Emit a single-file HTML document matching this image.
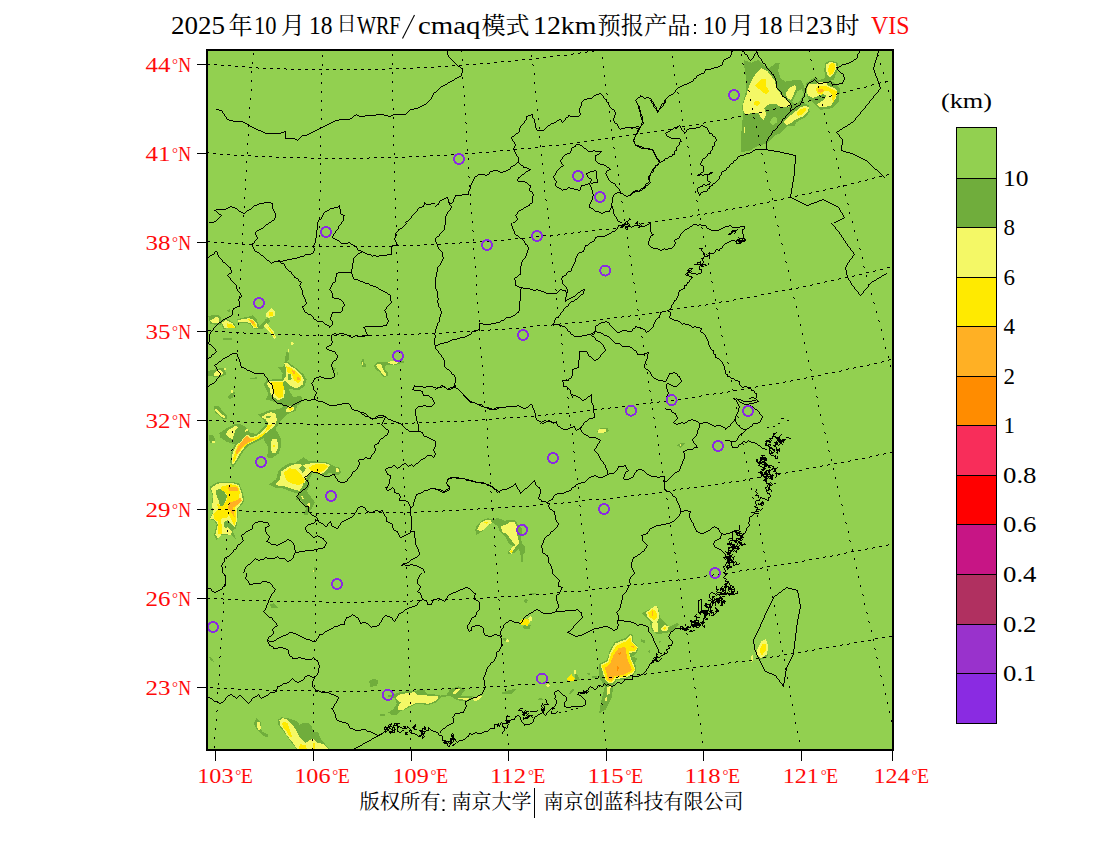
<!DOCTYPE html>
<html><head><meta charset="utf-8"><title>VIS</title>
<style>
html,body{margin:0;padding:0;background:#fff;}
body{width:1100px;height:850px;overflow:hidden;position:relative;font-family:"Liberation Serif",serif;}
svg{position:absolute;left:0;top:0;}
text{font-family:"Liberation Serif",serif;}
text.cjk{font-family:"Liberation Serif","Noto Serif CJK SC",serif;}
</style></head><body>
<svg width="1100" height="850" viewBox="0 0 1100 850">

<rect x="207" y="50" width="686" height="700" fill="#92d050"/>
<g id="map" clip-path="url(#mc)">
<defs><clipPath id="mc"><rect x="208" y="51" width="684" height="698"/></clipPath></defs>
<g shape-rendering="crispEdges"><polygon points="744.2,60.1 751.4,62.7 758.7,59.7 763.9,65.3 769.5,68.1 775.3,63.2 779.8,62.9 778.1,70.7 780.2,77.8 785.0,81.7 797.3,79.5 801.2,80.0 804.4,87.5 805.1,92.7 802.5,101.8 808.9,105.6 809.6,112.1 805.1,117.3 796.0,122.5 794.7,125.7 786.9,126.4 781.1,132.8 775.3,135.4 767.5,143.2 757.8,145.8 749.4,150.9 741.0,152.2 741.6,127.6 742.9,117.3 742.3,105.6 745.5,92.7 746.2,79.8 744.5,68.1" fill="#70ad3c"/>
<polygon points="805.7,83.9 814.1,77.4 819.3,80.0 827.1,77.4 833.5,82.4 840.0,88.8 838.7,101.8 832.2,108.2 820.6,109.8 814.1,103.3 807.6,98.1" fill="#70ad3c"/>
<polygon points="825.1,62.9 829.7,61.0 837.4,61.9 838.5,68.1 835.1,75.9 833.5,80.4 825.8,79.5 824.2,70.7" fill="#70ad3c"/>
<polygon points="797.3,91.4 801.8,88.8 803.8,94.0 799.9,101.1 794.7,104.4 792.1,101.8" fill="#92d050"/>
<polygon points="770.8,119.9 774.0,116.6 776.8,117.9 776.6,122.5 772.7,125.1 770.1,123.1" fill="#92d050"/>
<polygon points="756.5,72.6 761.7,68.1 767.5,71.4 774.6,80.4 776.6,88.8 781.8,95.3 786.9,99.8 790.8,104.4 788.9,106.9 781.8,107.6 776.6,104.4 768.8,104.4 764.3,108.2 766.2,114.7 763.6,119.9 760.4,117.3 759.1,113.4 752.0,112.8 745.5,115.4 742.9,109.5 743.6,101.8 746.8,94.0 749.4,84.9 753.3,77.8" fill="#f4f866"/>
<polygon points="755.2,85.6 761.1,79.1 765.6,79.1 766.2,86.2 769.5,91.4 766.2,94.6 761.7,91.4" fill="#ffea00"/>
<polygon points="753.9,101.8 758.5,100.7 760.4,103.7 757.8,105.9 754.6,105.0" fill="#ffea00"/>
<polygon points="785.6,92.7 790.8,86.9 795.4,84.9 796.0,88.8 793.4,95.3 790.8,99.8 786.9,97.9" fill="#f4f866"/>
<polygon points="783.7,121.8 788.2,117.3 794.7,112.1 799.9,107.6 805.1,105.6 808.9,107.6 807.6,112.1 803.8,116.0 796.0,119.2 792.1,122.5 786.9,125.1" fill="#f4f866"/>
<polygon points="796.6,113.4 800.5,109.5 805.1,107.6 806.4,110.2 802.5,114.1 797.9,116.0" fill="#ffea00"/>
<polygon points="807.0,87.5 808.9,84.3 815.4,84.3 820.6,81.7 825.8,82.4 828.4,86.2 833.5,87.5 837.4,91.4 836.1,97.9 833.5,101.8 830.9,105.6 825.8,106.9 819.3,106.9 816.7,104.4 820.6,101.8 824.5,99.2 826.4,95.3 823.2,94.0 819.3,95.9 812.8,97.9 807.6,95.3" fill="#f4f866"/>
<polygon points="815.4,88.8 819.3,86.2 825.8,86.2 832.2,88.8 836.8,91.4 835.5,97.2 833.5,101.8 831.6,99.2 832.2,94.6 828.4,91.4 824.5,90.8 821.9,94.6 818.0,94.0" fill="#ffea00"/>
<polygon points="818.0,89.5 823.2,88.8 823.8,90.8 820.6,92.7 818.0,92.1" fill="#ffb024"/>
<polygon points="826.4,64.2 829.7,62.3 835.5,62.7 836.8,66.8 834.2,73.3 830.3,77.2 827.1,74.6 825.8,69.4" fill="#f4f866"/>
<polygon points="829.0,65.5 831.6,62.9 834.8,63.6 835.5,67.5 832.9,73.3 829.7,75.2 828.1,70.7" fill="#ffea00"/>
<polygon points="743.8,127.0 744.9,127.0 744.9,132.8 743.8,132.8" fill="#f4f866"/>
<polygon points="208.2,315.9 217.9,314.6 221.2,317.8 220.5,324.9 210.2,324.3" fill="#70ad3c"/>
<polygon points="210.2,320.4 216.0,317.2 219.2,317.8 218.6,323.6 212.8,323.0" fill="#f4f866"/>
<polygon points="220.5,320.4 226.3,318.7 234.1,323.0 236.7,328.2 223.1,328.6" fill="#70ad3c"/>
<polygon points="221.8,323.0 225.7,320.0 232.8,323.6 235.4,327.5 224.4,327.5" fill="#f4f866"/>
<polygon points="227.0,323.4 231.5,323.9 235.0,327.5 227.6,327.5" fill="#ffea00"/>
<polygon points="237.3,319.1 249.0,316.5 253.1,315.2 256.8,319.8 259.3,326.2 265.8,319.1 268.4,317.4 270.3,321.1 262.6,329.1 257.4,329.5 252.9,328.2 249.6,323.9 243.8,322.6 238.0,323.0" fill="#70ad3c"/>
<polygon points="238.0,320.0 249.0,318.2 253.5,319.5 256.8,323.6 257.8,328.2 253.5,327.5 250.3,323.0 243.8,321.7 238.4,322.3" fill="#f4f866"/>
<polygon points="247.7,319.1 252.9,320.0 256.1,324.9 256.8,327.8 253.9,326.9 250.9,322.3" fill="#ffea00"/>
<polygon points="249.6,319.8 253.5,321.1 254.8,324.9 252.2,323.6" fill="#ffb024"/>
<polygon points="265.8,313.3 271.6,308.1 275.5,312.0 274.9,315.9 269.0,317.8 266.5,316.5" fill="#f4f866"/>
<polygon points="268.4,312.6 272.3,311.3 273.6,315.2 269.7,316.5" fill="#ffea00"/>
<polygon points="263.2,326.2 266.5,323.0 269.7,326.9 273.6,331.4 276.2,337.9 274.2,338.9 270.3,332.7 266.5,329.5" fill="#f4f866"/>
<polygon points="267.1,326.2 270.3,328.8 274.2,334.6 274.9,337.9 271.0,332.0" fill="#ffea00"/>
<polygon points="290.4,343.7 291.9,341.8 294.0,343.3 291.9,345.9" fill="#f4f866"/>
<polygon points="287.8,348.9 289.4,348.9 289.1,352.1 287.8,352.1" fill="#f4f866"/>
<polygon points="286.5,352.1 289.1,352.8 288.5,360.5 284.6,362.5 285.2,357.3" fill="#70ad3c"/>
<polygon points="278.1,367.6 283.9,366.3 284.2,361.8 287.8,361.8 295.6,367.6 303.3,374.1 306.6,379.3 304.6,386.4 298.8,390.3 289.1,389.0 285.9,393.5 285.2,400.0 265.8,400.0 268.4,393.5 263.9,384.4 266.5,379.9 274.9,379.3 282.0,379.3 282.6,372.8" fill="#70ad3c"/>
<polygon points="284.2,363.1 286.5,362.5 291.0,366.3 295.6,368.9 300.7,374.1 304.0,379.3 302.7,384.4 298.2,387.7 294.3,387.7 289.1,385.1 285.2,380.6 282.6,383.2 283.9,388.3 284.6,393.5 282.6,400.0 275.5,400.0 272.3,393.5 269.7,388.3 267.1,384.4 268.4,381.2 274.9,380.6 282.6,380.6 285.9,376.7 286.5,370.2" fill="#f4f866"/>
<polygon points="285.9,366.3 290.4,367.6 295.6,370.9 300.7,376.0 301.4,380.6 298.2,383.2 294.3,380.6 291.7,374.1 287.8,372.8" fill="#ffea00"/>
<polygon points="291.9,370.2 294.3,370.9 295.6,374.1 293.0,373.5" fill="#ffb024"/>
<polygon points="297.1,376.7 300.1,378.0 299.4,380.6 297.1,379.9" fill="#ffb024"/>
<polygon points="271.0,382.5 282.6,381.9 283.9,388.3 283.3,394.8 277.5,397.4 273.6,392.2" fill="#ffea00"/>
<polygon points="287.8,374.1 291.0,373.8 291.7,379.3 288.5,379.9" fill="#70ad3c"/>
<polygon points="208.2,370.9 224.4,367.4 226.3,374.7 221.8,376.7 208.2,376.4" fill="#70ad3c"/>
<polygon points="213.4,374.7 216.6,370.9 219.9,369.6 223.1,372.8 221.8,375.4 214.1,376.0" fill="#f4f866"/>
<polygon points="223.8,368.3 226.3,367.6 225.7,369.6 224.1,370.0" fill="#f4f866"/>
<polygon points="222.5,338.5 232.2,337.9 232.2,340.5 223.1,340.2" fill="#70ad3c"/>
<polygon points="226.3,310.7 229.6,309.4 230.2,312.6" fill="#70ad3c"/>
<polygon points="250.3,378.0 256.8,377.3 256.8,379.3 250.3,379.5" fill="#70ad3c"/>
<polygon points="332.4,367.6 335.7,368.3 334.4,371.5" fill="#70ad3c"/>
<polygon points="337.0,371.5 338.3,371.5 338.3,375.4 337.0,375.4" fill="#70ad3c"/>
<polygon points="228.3,397.4 232.8,393.5 234.1,395.4 230.2,399.3" fill="#70ad3c"/>
<polygon points="230.9,390.3 232.8,389.6 233.2,392.9 231.3,392.9" fill="#f4f866"/>
<polygon points="267.1,390.0 289.1,390.0 293.0,397.1 301.4,395.8 302.0,401.6 297.5,405.5 295.6,410.7 287.8,413.9 281.3,419.8 275.5,428.8 281.3,439.2 280.7,446.9 278.7,453.4 271.0,458.6 267.1,457.3 268.4,446.9 263.9,440.5 264.5,434.0 271.0,427.5 265.8,421.1 259.3,415.9 261.9,413.3 269.7,410.1 277.5,409.4 283.9,406.8 277.5,402.9 269.7,400.4" fill="#70ad3c"/>
<polygon points="269.7,390.0 285.2,390.0 283.9,397.8 278.7,400.4 272.3,396.5 270.3,392.6" fill="#f4f866"/>
<polygon points="273.6,390.0 283.3,390.0 282.6,396.5 278.7,398.4 274.9,394.5" fill="#ffea00"/>
<polygon points="285.9,409.4 289.1,406.2 293.6,406.8 293.6,410.1 289.1,412.6 286.5,412.0" fill="#f4f866"/>
<polygon points="287.8,408.8 291.0,406.8 293.0,408.1 290.4,410.7" fill="#ffea00"/>
<polygon points="258.0,414.6 265.8,412.0 272.3,410.4 277.5,413.9 278.7,421.1 276.2,427.5 265.8,435.3 261.9,439.2 249.0,445.6 243.8,450.8 237.3,461.2 232.8,467.6 230.2,462.5 231.5,452.1 234.8,444.3 227.0,441.8 220.5,437.9 219.2,433.3 225.7,428.8 236.1,423.6 242.5,424.9 247.7,428.8 249.6,432.7 256.8,434.0 265.8,424.9 263.2,419.8" fill="#70ad3c"/>
<polygon points="261.3,417.2 265.8,413.9 271.0,412.0 275.5,413.9 276.8,419.8 274.9,426.2 269.7,430.1 263.2,435.3 259.3,437.9 254.2,441.1 247.7,444.3 243.8,448.2 239.9,453.4 236.1,460.5 232.8,465.0 231.5,459.9 232.8,452.1 236.1,445.6 241.2,441.1 245.1,435.9 247.7,434.6 250.3,437.2 256.8,435.9 261.9,431.4 267.1,426.2 268.4,423.0 265.2,419.1" fill="#f4f866"/>
<polygon points="267.1,425.6 272.3,424.3 269.7,428.8 261.9,434.0 256.8,437.2 250.3,438.5 247.0,435.3 243.8,439.8 238.6,444.3 235.4,450.8 232.8,459.9 233.7,462.5 237.3,454.7 242.5,448.2 249.0,443.0 259.3,438.5 264.5,434.0" fill="#ffea00"/>
<polygon points="244.5,437.9 247.0,435.9 249.6,438.5 254.2,439.2 249.0,441.8 243.8,445.6 239.9,450.2 236.7,454.7 236.1,450.8 238.6,445.6 241.9,441.8" fill="#ffb024"/>
<polygon points="265.8,416.5 271.0,415.9 270.3,417.8 266.5,418.2" fill="#70ad3c"/>
<polygon points="271.0,441.8 272.9,438.5 276.2,438.5 277.7,443.0 277.5,449.5 275.5,453.4 272.3,453.4 270.7,448.2" fill="#f4f866"/>
<polygon points="272.9,445.0 274.9,445.0 274.9,446.9 272.9,446.9" fill="#ffea00"/>
<polygon points="225.7,434.0 228.9,429.5 235.4,426.0 238.0,426.9 234.8,431.4 232.8,439.2 228.9,437.9" fill="#f4f866"/>
<polygon points="244.5,430.1 247.7,428.6 248.3,430.1 245.4,432.0" fill="#f4f866"/>
<polygon points="214.1,406.2 217.9,405.5 227.0,415.9 227.6,419.1 223.1,419.1 214.7,412.0" fill="#70ad3c"/>
<polygon points="214.7,409.4 216.6,409.4 222.5,414.6 225.7,417.2 224.4,418.2 219.2,415.2 216.0,412.0" fill="#f4f866"/>
<polygon points="208.9,435.3 212.8,434.6 215.4,439.2 214.1,443.0 210.2,443.0 208.6,439.2" fill="#70ad3c"/>
<polygon points="212.1,441.1 214.7,441.1 215.1,443.0 212.1,443.0" fill="#f4f866"/>
<polygon points="228.3,396.5 232.8,391.9 235.4,392.6 232.8,397.8 229.6,398.4" fill="#70ad3c"/>
<polygon points="230.9,390.6 232.8,390.0 232.8,392.6 231.3,392.8" fill="#f4f866"/>
<polygon points="269.0,484.4 276.2,479.3 278.7,470.2 287.8,463.7 295.6,462.5 303.3,457.3 308.5,460.5 317.6,461.8 326.6,462.5 334.4,466.3 339.6,467.6 340.9,472.8 338.3,475.4 329.2,472.8 325.3,475.4 318.9,474.1 312.4,472.8 308.5,480.6 309.8,485.7 304.6,493.5 300.7,500.0 295.6,500.0 298.2,493.5 293.0,492.2 282.6,488.3 274.9,487.7" fill="#70ad3c"/>
<polygon points="275.5,484.4 280.0,479.3 281.3,471.5 289.1,466.3 296.9,463.7 303.3,465.0 308.5,463.7 316.3,462.5 325.3,463.1 329.9,465.0 326.6,470.2 321.4,474.1 315.0,472.8 311.1,470.9 307.2,475.4 305.9,480.6 303.3,485.7 299.4,490.9 294.3,489.6 285.2,486.4 278.7,485.7" fill="#f4f866"/>
<polygon points="283.9,472.8 289.1,468.3 295.6,468.9 300.7,474.1 304.6,479.3 303.3,483.2 298.2,485.1 290.4,483.2 285.9,479.3" fill="#ffea00"/>
<polygon points="308.5,468.3 312.4,465.0 318.9,463.7 325.3,464.4 327.9,466.3 324.0,470.9 318.9,472.8 313.7,471.5 310.4,470.2" fill="#ffea00"/>
<polygon points="299.2,468.3 302.7,465.3 306.2,468.7 302.7,472.8" fill="#70ad3c"/>
<polygon points="335.7,468.3 338.3,467.6 338.9,471.5 336.3,472.2" fill="#f4f866"/>
<polygon points="209.5,486.8 217.3,482.3 230.9,481.6 239.3,483.6 242.5,492.0 244.5,500.4 241.9,504.9 238.0,508.8 237.3,521.8 236.1,528.2 232.8,530.8 236.1,539.2 230.9,534.7 220.5,534.7 216.6,539.9 214.1,534.7 216.6,524.3 214.1,520.5 209.5,519.2 212.8,512.7 211.5,506.2 212.8,495.9" fill="#70ad3c"/>
<polygon points="210.8,488.1 217.9,483.6 230.9,482.7 238.6,484.9 241.2,492.0 243.2,500.4 240.6,504.3 237.3,508.2 236.7,521.8 234.8,526.9 228.9,521.8 227.0,526.9 232.2,532.1 230.9,534.7 221.8,534.0 217.9,538.6 215.4,534.7 217.9,524.3 214.7,519.8 210.4,518.5 213.4,512.7 212.1,506.2 213.4,495.9" fill="#f4f866"/>
<polygon points="220.5,486.8 230.9,484.2 238.0,486.2 239.9,492.0 238.6,497.2 241.9,500.4 239.3,503.6 235.4,507.5 236.1,520.5 234.1,525.6 230.9,519.2 228.9,514.0 227.0,517.9 221.8,517.9 220.5,521.1 222.5,526.9 221.8,533.4 218.6,534.7 217.9,526.9 218.6,521.8 214.1,519.2 213.4,514.0 217.9,510.1 217.3,503.6 221.8,506.2 226.3,501.1 227.6,494.6 221.8,490.7" fill="#ffea00"/>
<polygon points="228.3,487.5 237.3,486.8 238.4,490.7 228.9,491.3" fill="#ffb024"/>
<polygon points="228.9,502.3 235.4,501.1 240.6,497.8 241.9,501.1 237.3,504.9 232.8,507.5 234.1,514.0 234.8,517.9 231.5,512.7 228.3,508.8" fill="#ffb024"/>
<polygon points="216.0,490.7 219.9,488.8 224.4,492.0 227.0,495.9 225.7,501.1 223.1,506.2 219.9,505.6 218.6,499.8 216.6,495.9" fill="#70ad3c"/>
<polygon points="224.4,521.8 228.3,519.8 228.9,523.0 226.3,528.2 224.4,526.9" fill="#70ad3c"/>
<polygon points="303.3,482.9 308.5,484.2 307.2,492.0 315.0,502.3 312.4,507.5 307.2,515.3 303.3,515.3 305.9,508.8 300.7,499.8 299.4,495.9" fill="#70ad3c"/>
<polygon points="301.4,496.5 303.3,495.2 303.6,498.5 301.8,499.1" fill="#f4f866"/>
<polygon points="307.2,503.6 310.4,503.0 310.1,506.9 307.9,507.5" fill="#f4f866"/>
<polygon points="313.0,569.6 314.3,569.6 314.3,572.2 313.0,572.2" fill="#f4f866"/>
<polygon points="314.3,567.0 315.6,567.0 315.6,572.2 314.3,572.2" fill="#70ad3c"/>
<polygon points="254.0,723.6 256.5,717.9 261.0,722.4 261.6,731.3 268.0,734.5 267.4,737.6 262.3,735.1 257.2,730.0" fill="#70ad3c"/>
<polygon points="257.2,722.4 259.7,721.7 261.0,728.7 259.1,730.6 257.4,727.5" fill="#f4f866"/>
<polygon points="277.5,719.8 281.4,717.3 289.0,718.5 296.6,721.1 299.8,724.9 303.0,723.0 308.1,723.0 311.9,726.2 313.2,731.9 318.3,732.5 320.8,738.9 327.2,746.5 329.7,749.1 296.6,749.1 291.5,742.7 286.5,735.1 281.4,728.7 278.2,724.9" fill="#70ad3c"/>
<polygon points="279.5,720.5 282.6,717.9 287.7,719.8 292.8,724.9 296.6,731.3 299.8,737.6 305.5,742.7 313.2,738.3 317.0,742.7 323.4,744.0 327.8,748.5 297.3,749.1 292.8,742.7 287.7,736.4 283.3,729.4 279.5,724.3" fill="#f4f866"/>
<polygon points="282.0,723.0 284.5,721.7 287.7,723.6 290.3,731.3 292.2,737.6 289.6,736.4 286.5,731.3 283.3,727.5" fill="#ffea00"/>
<polygon points="299.8,744.0 305.5,745.3 306.8,748.5 299.2,748.5" fill="#ffea00"/>
<polygon points="312.5,743.4 314.5,743.4 314.5,748.5 312.5,748.5" fill="#ffea00"/>
<polygon points="475.2,530.5 476.6,526.1 481.7,520.6 487.5,518.1 491.9,519.2 498.5,518.1 504.3,520.6 514.5,519.9 518.8,525.4 522.5,529.0 521.7,534.1 521.0,539.9 522.5,544.3 525.0,546.5 524.6,553.0 522.5,555.2 522.8,561.7 521.4,561.7 520.6,555.2 518.8,548.6 515.2,552.3 508.6,554.8 508.3,551.5 513.0,546.5 508.6,543.5 505.7,537.0 499.9,531.9 497.7,526.1 492.6,522.5 487.5,526.1 482.5,531.2 476.6,534.8" fill="#70ad3c"/>
<polygon points="477.0,529.7 480.6,522.8 486.1,519.9 490.5,520.3 492.3,522.8 488.3,525.0 484.3,529.4 480.3,531.2" fill="#f4f866"/>
<polygon points="484.1,522.3 487.9,522.1 486.5,523.9" fill="#ffea00"/>
<polygon points="501.0,526.5 505.7,524.6 510.1,522.1 514.5,522.1 517.0,526.8 516.3,531.2 517.7,536.3 519.2,543.5 517.4,545.4 513.7,549.4 511.5,553.7 509.0,551.5 512.3,547.2 515.2,545.0 512.3,541.4 508.6,536.3 505.7,533.4 502.1,532.3" fill="#f4f866"/>
<polygon points="509.7,551.5 511.5,549.7 513.4,551.5 511.5,553.4" fill="#ffea00"/>
<polygon points="599.0,664.1 607.1,659.7 609.3,651.6 614.4,642.1 626.2,637.6 629.1,634.0 632.8,634.7 633.5,642.1 638.7,647.9 636.5,653.1 632.1,656.8 637.2,658.2 635.0,662.6 636.5,670.0 633.5,675.1 626.2,679.6 616.6,680.3 613.7,685.4 611.5,697.9 605.6,709.7 599.0,713.4 601.2,700.9 604.9,686.2 599.7,678.8 599.0,671.5" fill="#70ad3c"/>
<polygon points="600.4,664.9 607.8,661.2 610.0,652.4 615.1,643.5 626.9,639.1 629.9,635.0 632.1,635.9 632.4,642.1 637.9,647.6 635.7,651.6 629.1,653.1 631.3,659.7 633.5,664.1 635.7,670.0 632.1,674.4 625.4,678.1 615.9,678.8 612.9,683.2 609.3,683.2 604.9,679.6 602.6,671.5" fill="#f4f866"/>
<polygon points="601.9,665.6 608.5,662.4 611.5,653.1 616.6,645.7 626.9,640.9 630.3,636.9 631.3,642.1 637.2,647.6 635.0,650.6 628.4,651.6 630.3,659.7 635.0,670.0 631.3,672.9 624.7,676.6 615.1,677.6 612.2,681.8 609.3,682.1 605.6,678.8 603.8,671.5" fill="#ffea00"/>
<polygon points="604.9,667.8 610.0,664.1 613.7,654.6 618.8,647.9 625.4,647.2 626.2,652.4 627.6,659.7 632.1,670.0 629.1,672.2 623.2,675.1 614.4,676.2 611.5,680.6 608.5,680.3 606.8,674.4" fill="#ffb024"/>
<polygon points="618.1,653.8 621.0,651.6 620.3,655.3" fill="#ff8c00"/>
<polygon points="630.6,646.5 633.5,645.7 634.3,648.2" fill="#ffb024"/>
<polygon points="616.6,665.6 619.6,667.1 617.4,670.7" fill="#ff8c00"/>
<polygon points="607.1,686.9 610.7,686.2 610.0,693.5 607.1,695.0" fill="#f4f866"/>
<polygon points="605.3,697.9 606.8,697.2 606.5,700.9 605.3,700.9" fill="#f4f866"/>
<polygon points="641.6,613.4 646.0,611.2 651.9,608.2 657.1,605.3 658.5,609.7 660.0,617.1 664.4,621.5 669.6,626.6 676.9,622.9 679.1,624.4 671.8,631.8 665.1,633.2 657.1,634.0 651.9,630.3 649.7,621.5 645.3,617.1" fill="#70ad3c"/>
<polygon points="646.0,612.6 649.7,609.7 656.3,605.3 658.2,609.7 659.3,617.1 657.1,621.5 658.5,627.4 657.8,631.8 654.1,631.8 651.9,625.9 652.6,622.2 647.5,617.1" fill="#f4f866"/>
<polygon points="648.2,612.6 652.6,609.4 656.3,611.2 657.1,617.1 654.1,620.0 649.7,617.1" fill="#ffea00"/>
<polygon points="651.9,611.2 652.9,611.2 652.9,616.3 651.9,616.3" fill="#ffb024"/>
<polygon points="660.7,628.1 665.1,625.1 668.8,626.6 667.4,630.3 662.2,631.5" fill="#f4f866"/>
<polygon points="662.6,628.5 665.1,626.6 666.6,628.1 664.4,630.3" fill="#ffea00"/>
<polygon points="640.9,639.1 645.3,640.6 645.6,643.5 641.6,642.1" fill="#70ad3c"/>
<polygon points="646.8,650.9 650.4,650.1 650.4,653.8" fill="#70ad3c"/>
<polygon points="632.1,657.5 636.5,657.5 634.3,660.4" fill="#70ad3c"/>
<polygon points="587.2,673.7 589.4,672.9 589.4,675.1" fill="#70ad3c"/>
<polygon points="591.6,676.6 596.8,675.9 596.8,677.6 591.6,677.6" fill="#70ad3c"/>
<polygon points="658.5,641.3 660.7,641.3 659.7,642.8" fill="#70ad3c"/>
<polygon points="385.9,696.0 392.5,694.4 402.3,691.6 415.4,691.1 420.8,688.9 424.6,690.5 427.4,693.8 439.4,694.9 442.1,696.5 436.1,702.5 429.5,704.7 415.4,704.2 405.5,709.1 400.1,711.3 396.8,714.5 391.4,714.5 388.1,712.4 393.5,709.1 396.8,703.6 394.6,698.2" fill="#70ad3c"/>
<polygon points="395.7,697.1 400.1,694.4 406.6,693.3 414.3,692.2 417.5,694.9 427.4,695.5 438.3,696.0 437.7,698.7 433.9,702.0 428.5,703.6 415.4,703.1 407.7,706.9 403.4,709.6 398.5,709.6 397.9,706.9 400.6,702.5 396.8,699.8" fill="#f4f866"/>
<polygon points="375.0,679.6 377.2,680.2 378.1,683.5 376.1,685.6 375.0,685.1" fill="#70ad3c"/>
<polygon points="379.9,714.5 384.8,714.0 384.8,715.6 379.9,715.9" fill="#70ad3c"/>
<polygon points="445.9,696.0 450.3,688.9 459.0,686.2 462.3,688.4 465.5,690.0 462.3,692.7 461.2,696.0 468.8,696.5 473.2,696.0 471.0,698.7 465.5,700.9 456.8,700.4 451.4,696.5" fill="#70ad3c"/>
<polygon points="451.9,693.3 455.7,689.5 461.2,688.9 457.4,692.2 455.2,693.8" fill="#f4f866"/>
<polygon points="457.9,698.0 468.8,697.6 468.3,699.8 459.0,699.3" fill="#f4f866"/>
<polygon points="472.6,699.3 477.5,696.5 483.0,695.8 479.7,699.3 475.4,701.2" fill="#f4f866"/>
<polygon points="440.5,695.5 445.9,694.9 445.9,696.5 440.5,696.9" fill="#70ad3c"/>
<polygon points="522.4,625.6 530.8,624.9 530.1,628.6 523.6,628.6" fill="#70ad3c"/>
<polygon points="519.5,621.7 522.4,618.7 527.5,619.1 530.1,622.4 527.5,625.6 521.7,625.2" fill="#ffea00"/>
<polygon points="528.2,617.8 531.4,615.2 531.7,621.1 529.5,621.7" fill="#f4f866"/>
<polygon points="502.9,637.9 506.8,637.6 505.5,641.1 503.6,640.7" fill="#70ad3c"/>
<polygon points="505.3,640.7 507.5,639.2 509.2,641.1 507.1,642.8" fill="#f4f866"/>
<polygon points="523.9,600.4 526.2,598.0 527.8,601.0 525.6,603.6" fill="#70ad3c"/>
<polygon points="528.2,593.6 536.6,593.2 532.7,595.4" fill="#70ad3c"/>
<polygon points="575.4,673.5 578.0,675.4 579.9,679.9 575.4,679.9" fill="#70ad3c"/>
<polygon points="567.0,678.0 571.5,674.1 574.8,678.7 574.1,680.6 567.6,680.6" fill="#ffea00"/>
<polygon points="573.5,670.9 575.4,668.9 576.1,673.5 574.1,674.1" fill="#f4f866"/>
<polygon points="547.6,682.5 550.2,682.5 550.2,684.2" fill="#70ad3c"/>
<polygon points="545.6,685.1 548.9,683.8 550.2,685.8 547.6,687.3" fill="#f4f866"/>
<polygon points="500.4,692.9 510.7,689.7 516.5,689.0 512.0,693.5 502.9,693.9" fill="#70ad3c"/>
<polygon points="568.9,693.5 572.2,689.0 574.8,689.7 571.5,693.5" fill="#70ad3c"/>
<polygon points="587.1,673.5 590.3,672.8 589.0,676.1" fill="#70ad3c"/>
<polygon points="590.9,677.0 597.4,676.1 597.4,677.7" fill="#70ad3c"/>
<polygon points="537.9,698.7 541.8,698.1 543.1,700.0 538.5,700.0" fill="#70ad3c"/>
<polygon points="758.8,657.6 768.2,654.1 767.1,657.6 760.0,660.0" fill="#70ad3c"/>
<polygon points="756.5,650.6 761.2,641.2 765.9,638.8 768.2,645.9 767.1,654.1 761.2,658.4 757.6,655.3" fill="#f4f866"/>
<polygon points="759.5,650.6 762.4,643.5 765.9,643.5 765.9,650.6 761.9,655.3" fill="#ffea00"/>
<polygon points="750.6,656.5 752.5,655.3 752.9,661.2 751.1,661.6" fill="#f4f866"/>
<polygon points="374.0,365.5 377.3,362.5 387.1,362.2 395.1,360.4 404.5,361.1 403.8,362.5 396.5,364.7 389.6,365.1 385.6,365.1 384.9,369.1 387.8,372.7 387.5,376.4 383.5,376.7 379.1,372.0 375.1,368.4" fill="#70ad3c"/>
<polygon points="376.2,365.5 379.1,363.3 381.3,364.7 383.1,369.8 386.0,374.2 385.6,376.0 383.8,375.6 380.5,371.3 378.0,368.4" fill="#f4f866"/>
<polygon points="387.8,362.2 390.7,361.2 395.1,361.5 398.0,362.2 396.5,363.6 393.6,364.7 390.4,363.6" fill="#f4f866"/>
<polygon points="360.9,362.5 362.0,359.3 363.8,359.3 364.5,363.3 366.7,365.1 365.6,366.5 362.4,366.5" fill="#70ad3c"/>
<polygon points="361.9,362.2 363.1,361.8 363.1,365.1 362.0,365.1" fill="#f4f866"/>
<polygon points="597.1,431.1 600.7,427.5 608.0,428.2 608.7,431.1 605.1,433.3 598.5,433.3" fill="#70ad3c"/>
<polygon points="598.1,429.6 606.3,428.9 606.5,431.4 603.6,432.8 598.5,432.5" fill="#f4f866"/>
<polygon points="677.1,445.6 680.7,442.7 685.1,443.5 680.7,447.8" fill="#70ad3c"/>
<polygon points="680.0,443.5 681.0,443.5 681.0,445.9 680.0,445.9" fill="#f4f866"/>
<polygon points="369.1,680.7 374.3,678.6 378.5,680.7 376.4,685.9 370.2,686.9" fill="#70ad3c"/>
<polygon points="269.8,604.4 274.0,603.3 278.2,607.5 271.9,608.5" fill="#70ad3c"/>
<polygon points="208.1,656.6 211.3,657.7 214.4,661.9 211.3,660.8" fill="#70ad3c"/></g>
<path d="M447.5 51v4M731.5 51v4M732 51.5h1M742 51.5h2M756.5 51v2M859.5 51v2M878.5 51v2M744.5 52v2M757.5 52v3M755 53.5h1M858 53.5h1M877.5 53v4M745 54.5h2M754.5 54v2M857.5 54v4M448.5 55v2M730.5 55v2M747.5 55v2M758.5 55v2M753.5 56v2M449 57.5h1M728 57.5h2M748.5 57v2M759 57.5h1M876.5 57v3M450 58.5h1M726 58.5h2M752 58.5h1M760 58.5h1M856 58.5h1M451 59.5h1M724 59.5h2M749 59.5h1M751 59.5h1M761.5 59v2M854 59.5h2M452 60.5h1M723.5 60v2M750 60.5h1M853 60.5h1M875.5 60v3M453 61.5h1M762.5 61v2M851 61.5h2M454 62.5h1M722.5 62v3M849 62.5h2M455 63.5h1M763 63.5h2M846 63.5h3M874.5 63v4M456 64.5h1M765.5 64v2M842 64.5h4M457 65.5h1M720 65.5h2M841 65.5h1M458 66.5h2M718 66.5h2M766.5 66v2M839 66.5h2M460 67.5h1M714 67.5h4M836 67.5h3M873.5 67v3M461 68.5h1M711 68.5h3M767 68.5h1M837.5 68v2M462.5 69v4M705 69.5h6M768 69.5h1M705 70.5h1M769 70.5h1M838 70.5h1M874.5 70v3M704.5 71v2M770 71.5h1M839 71.5h1M771.5 72v2M840 72.5h1M461.5 73v3M701 73.5h3M841 73.5h2M875.5 73v3M699 74.5h2M772 74.5h2M843.5 74v3M697 75.5h2M773 75.5h1M459 76.5h2M696.5 76v2M774.5 76v2M876.5 76v2M457 77.5h2M844.5 77v3M455 78.5h2M694 78.5h2M775.5 78v3M877.5 78v3M454 79.5h1M693.5 79v2M814 79.5h1M452 80.5h2M813 80.5h1M815 80.5h1M843.5 80v2M450 81.5h2M691 81.5h2M776.5 81v7M811 81.5h2M816 81.5h1M829 81.5h2M878.5 81v3M448 82.5h2M689 82.5h2M809 82.5h2M817 82.5h1M823 82.5h6M831.5 82v2M842.5 82v2M447 83.5h1M687 83.5h2M808 83.5h1M818 83.5h5M839 83.5h3M445 84.5h2M684 84.5h3M807.5 84v2M832 84.5h7M879.5 84v3M443 85.5h2M682 85.5h2M832 85.5h1M441 86.5h2M680 86.5h2M806.5 86v2M440 87.5h1M678 87.5h2M880.5 87v2M439 88.5h1M677 88.5h1M777 88.5h1M805.5 88v5M438 89.5h1M676 89.5h1M778 89.5h1M879 89.5h1M437 90.5h1M675.5 90v2M779 90.5h1M878.5 90v2M436 91.5h1M780 91.5h1M434 92.5h2M674 92.5h1M781.5 92v3M877 92.5h1M433.5 93v2M599 93.5h2M673 93.5h1M804.5 93v4M876 93.5h1M596 94.5h3M601 94.5h1M671 94.5h2M875 94.5h1M432.5 95v2M594 95.5h2M602 95.5h1M640.5 95v2M669 95.5h2M782.5 95v2M874 95.5h1M593 96.5h1M603.5 96v2M641 96.5h2M668 96.5h1M783 96.5h1M873.5 96v2M431.5 97v2M592 97.5h1M638 97.5h2M643 97.5h1M646 97.5h3M667 97.5h1M784 97.5h2M803 97.5h1M587 98.5h5M604 98.5h1M637 98.5h1M644 98.5h2M649 98.5h2M666 98.5h1M786.5 98v2M802.5 98v3M872 98.5h1M430 99.5h1M584 99.5h3M605 99.5h2M636 99.5h1M651.5 99v4M665.5 99v4M871 99.5h1M429 100.5h1M583 100.5h1M606.5 100v2M635 100.5h1M650 100.5h1M664.5 100v4M787 100.5h1M870 100.5h1M428 101.5h1M582 101.5h1M636.5 101v2M652 101.5h1M788 101.5h1M801.5 101v2M869.5 101v2M427 102.5h1M581.5 102v4M607 102.5h1M653.5 102v5M789 102.5h1M426 103.5h1M608.5 103v2M637.5 103v2M652 103.5h1M662 103.5h2M790.5 103v2M800.5 103v2M868 103.5h1M424 104.5h2M654.5 104v2M661.5 104v2M663.5 104v2M867 104.5h1M422 105.5h2M609.5 105v2M638.5 105v4M791.5 105v3M798 105.5h2M866 105.5h1M420 106.5h2M580.5 106v2M639.5 106v6M655 106.5h1M660.5 106v3M662 106.5h1M796 106.5h2M865.5 106v2M418 107.5h2M610 107.5h1M654 107.5h1M656.5 107v4M661 107.5h1M795 107.5h1M414 108.5h4M579.5 108v5M611 108.5h1M655 108.5h1M659.5 108v2M790.5 108v4M794 108.5h1M864 108.5h1M216 109.5h3M410 109.5h4M612 109.5h2M792 109.5h2M863 109.5h1M219 110.5h3M409 110.5h1M614.5 110v2M640.5 110v7M657.5 110v3M658.5 110v2M791 110.5h1M862 110.5h1M222.5 111v2M408 111.5h1M861 111.5h1M407 112.5h1M615.5 112v3M789 112.5h1M860.5 112v2M223 113.5h1M406 113.5h1M580.5 113v2M788 113.5h1M224.5 114v2M356 114.5h1M376 114.5h8M393 114.5h13M531 114.5h2M641.5 114v2M787 114.5h1M859 114.5h1M354 115.5h2M357 115.5h2M365 115.5h11M384 115.5h4M391 115.5h2M528 115.5h3M532.5 115v3M568 115.5h2M579 115.5h1M614.5 115v3M786 115.5h1M858 115.5h1M225 116.5h1M353 116.5h1M359 116.5h6M388 116.5h3M526.5 116v4M527 116.5h1M568 116.5h1M570 116.5h9M642.5 116v7M785.5 116v2M857 116.5h1M226.5 117v2M352 117.5h1M566 117.5h2M641.5 117v3M856 117.5h1M350 118.5h2M533 118.5h1M565.5 118v2M613.5 118v3M783 118.5h2M855.5 118v2M227 119.5h2M339 119.5h11M534.5 119v4M559 119.5h2M782.5 119v2M229 120.5h4M335 120.5h4M525 120.5h1M557 120.5h2M561.5 120v2M564 120.5h1M854 120.5h1M233 121.5h10M333 121.5h2M524.5 121v2M556 121.5h1M563 121.5h1M614.5 121v2M781.5 121v2M853 121.5h1M243 122.5h2M331 122.5h2M554 122.5h2M562 122.5h1M643.5 122v2M851 122.5h2M245 123.5h2M329 123.5h2M523 123.5h1M535.5 123v5M551 123.5h3M615 123.5h2M641.5 123v3M780 123.5h1M850 123.5h1M247 124.5h2M327 124.5h2M522 124.5h1M550 124.5h1M617.5 124v2M642 124.5h1M779 124.5h1M848 124.5h2M249 125.5h1M325 125.5h2M521 125.5h1M548 125.5h2M679 125.5h1M701 125.5h2M778 125.5h1M847 125.5h1M250 126.5h2M323 126.5h2M520.5 126v2M547 126.5h1M618.5 126v2M636 126.5h3M640.5 126v2M677 126.5h2M680.5 126v2M700 126.5h1M703 126.5h2M777.5 126v2M845 126.5h2M252 127.5h2M321 127.5h2M546 127.5h1M625 127.5h11M639.5 127v3M674 127.5h3M696 127.5h4M705 127.5h2M843 127.5h2M254 128.5h2M319 128.5h2M519.5 128v4M536.5 128v2M545 128.5h1M619 128.5h1M621 128.5h4M631 128.5h2M636 128.5h3M673 128.5h1M681.5 128v2M689 128.5h7M707.5 128v2M776 128.5h1M842 128.5h1M256 129.5h2M317 129.5h2M544 129.5h1M620 129.5h1M638.5 129v3M670 129.5h3M687 129.5h2M775 129.5h1M840 129.5h2M258 130.5h3M315 130.5h2M537 130.5h7M637.5 130v4M670 130.5h1M682 130.5h1M686.5 130v2M708.5 130v2M773 130.5h2M839 130.5h1M261 131.5h2M284 131.5h2M313 131.5h2M668 131.5h2M683 131.5h1M772.5 131v2M837 131.5h2M263 132.5h2M281 132.5h3M285.5 132v7M311 132.5h2M518 132.5h1M666 132.5h2M684 132.5h2M709.5 132v2M836 132.5h1M265 133.5h16M309 133.5h2M516 133.5h2M636.5 133v2M665 133.5h1M684 133.5h1M710 133.5h2M771.5 133v2M837 133.5h1M307 134.5h2M515 134.5h1M666.5 134v2M712.5 134v2M838 134.5h1M302 135.5h5M514 135.5h1M635.5 135v2M770 135.5h1M839.5 135v2M301 136.5h1M512 136.5h2M667 136.5h2M713 136.5h2M769 136.5h1M300 137.5h1M511.5 137v2M634.5 137v3M669 137.5h2M715.5 137v2M768.5 137v2M840 137.5h1M286 138.5h9M299 138.5h1M671 138.5h9M841 138.5h1M295 139.5h2M298 139.5h1M512.5 139v2M633.5 139v3M680.5 139v3M716.5 139v2M767.5 139v2M842.5 139v6M297 140.5h1M513 141.5h1M634.5 141v3M681 141.5h1M715 141.5h1M766.5 141v9M514.5 142v2M679.5 142v3M714.5 142v4M515.5 144v2M576 144.5h4M635.5 144v2M575.5 145v2M580 145.5h2M636 145.5h3M678 145.5h1M841.5 145v6M514.5 146v2M574 146.5h1M582 146.5h1M637 146.5h5M677 146.5h1M712.5 146v4M713 146.5h1M572 147.5h2M583 147.5h1M639 147.5h2M642 147.5h2M676.5 147v4M513.5 148v2M571.5 148v3M584 148.5h2M641 148.5h9M586 149.5h1M648 149.5h5M755 149.5h11M767 149.5h1M514.5 150v2M587 150.5h1M593 150.5h2M652 150.5h2M675 150.5h1M711 150.5h1M753 150.5h2M768 150.5h6M842 150.5h1M570.5 151v2M588 151.5h5M595 151.5h7M653.5 151v2M674.5 151v4M710.5 151v3M752 151.5h1M774 151.5h6M843 151.5h3M515.5 152v2M600 152.5h1M654.5 152v3M750 152.5h2M780 152.5h4M846 152.5h4M567 153.5h3M599 153.5h1M708 153.5h2M746 153.5h4M784 153.5h5M850 153.5h3M516.5 154v2M565 154.5h2M597 154.5h2M655.5 154v3M672 154.5h2M707.5 154v2M744 154.5h2M789 154.5h4M853 154.5h2M564 155.5h1M595.5 155v6M596 155.5h1M672 155.5h1M740 155.5h4M793 155.5h3M855 155.5h2M517 156.5h1M563 156.5h1M656.5 156v3M669 156.5h3M706 156.5h1M738 156.5h2M795.5 156v8M857 156.5h2M518.5 157v6M562.5 157v2M668 157.5h1M705 157.5h1M737.5 157v2M859 157.5h2M657.5 158v2M665 158.5h3M703 158.5h2M861 158.5h2M561 159.5h1M658.5 159v3M664.5 159v2M702.5 159v2M736 159.5h1M863 159.5h2M560.5 160v2M659.5 160v3M663 160.5h1M734 160.5h2M865 160.5h2M596 161.5h1M661 161.5h2M701.5 161v2M733.5 161v2M867 161.5h1M517 162.5h1M561.5 162v2M597 162.5h1M660 162.5h1M868 162.5h1M516 163.5h1M519 163.5h1M598 163.5h2M658.5 163v2M700.5 163v2M731 163.5h2M869 163.5h1M515 164.5h1M520 164.5h1M562 164.5h1M600 164.5h4M657.5 164v2M730 164.5h1M794.5 164v12M870 164.5h1M513 165.5h2M521 165.5h2M563 165.5h1M604 165.5h2M655.5 165v3M656 165.5h1M701 165.5h2M729.5 165v2M871 165.5h1M511 166.5h2M523.5 166v2M561 166.5h2M606 166.5h1M703.5 166v6M872 166.5h1M510.5 167v2M524 167.5h3M560 167.5h1M607 167.5h2M654.5 167v2M727 167.5h2M873 167.5h1M527 168.5h2M559 168.5h1M609.5 168v2M653.5 168v4M726.5 168v2M874 168.5h1M508 169.5h2M529 169.5h2M558 169.5h1M610 169.5h1M652.5 169v2M875 169.5h2M493 170.5h5M506 170.5h2M528 170.5h2M557 170.5h1M594 170.5h2M607 170.5h2M724 170.5h2M877 170.5h1M490 171.5h3M498 171.5h2M503 171.5h3M526 171.5h2M556.5 171v2M590 171.5h4M596.5 171v8M606.5 171v2M651.5 171v2M722 171.5h2M878 171.5h1M489.5 172v2M500 172.5h3M525 172.5h1M588 172.5h2M652 172.5h1M701 172.5h2M710 172.5h3M721.5 172v3M879 172.5h1M524 173.5h1M555.5 173v2M586 173.5h2M605 173.5h1M650.5 173v3M700.5 173v2M709 173.5h3M880 173.5h1M478 174.5h7M487 174.5h2M522 174.5h2M586 174.5h1M606.5 174v2M698 174.5h2M701 174.5h1M704 174.5h6M881 174.5h1M477 175.5h1M485 175.5h2M521 175.5h1M554 175.5h1M587.5 175v2M649.5 175v7M697 175.5h3M702 175.5h2M707.5 175v6M720 175.5h1M882 175.5h1M475 176.5h2M520 176.5h1M553.5 176v2M607.5 176v2M648.5 176v4M719.5 176v3M793.5 176v6M883 176.5h1M474.5 177v2M518 177.5h2M588 177.5h1M884 177.5h1M518 178.5h1M554.5 178v2M589 178.5h2M608.5 178v2M473.5 179v2M517.5 179v2M591.5 179v2M597.5 179v4M718 179.5h1M555 180.5h1M609 180.5h1M717 180.5h1M472.5 181v2M518 181.5h7M556.5 181v2M590.5 181v2M610 181.5h1M708 181.5h2M716 181.5h1M525 182.5h2M593 182.5h4M611 182.5h2M648 182.5h1M650 182.5h1M710 182.5h1M715 182.5h1M792.5 182v6M471.5 183v2M527 183.5h1M555.5 183v3M588 183.5h2M591 183.5h2M613 183.5h2M646 183.5h2M649 183.5h1M709.5 183v2M713 183.5h2M528 184.5h1M585 184.5h3M589 184.5h1M615.5 184v2M645.5 184v4M648 184.5h1M703 184.5h2M707 184.5h2M712.5 184v2M470.5 185v4M529 185.5h2M581 185.5h4M590.5 185v2M646 185.5h2M702.5 185v2M705 185.5h2M711 185.5h1M530.5 186v2M556 186.5h1M581 186.5h1M616 186.5h1M644.5 186v3M700 186.5h2M709.5 186v3M710 186.5h1M557 187.5h2M568 187.5h2M580.5 187v3M591.5 187v3M617 187.5h1M643.5 187v2M698 187.5h2M529.5 188v3M559 188.5h2M567 188.5h1M570 188.5h4M618 188.5h1M641 188.5h2M697.5 188v4M708 188.5h1M791.5 188v6M469.5 189v2M561 189.5h1M563 189.5h4M574 189.5h4M619.5 189v2M640.5 189v2M642 189.5h1M707.5 189v2M562 190.5h1M578 190.5h2M592.5 190v4M635 190.5h3M639.5 190v2M641 190.5h1M468.5 191v4M530 191.5h2M620.5 191v2M633 191.5h6M703 191.5h4M532.5 192v2M617 192.5h3M632 192.5h3M698.5 192v2M701 192.5h2M615 193.5h2M621 193.5h2M631 193.5h2M700.5 193v2M462 194.5h6M533.5 194v2M593.5 194v2M614 194.5h1M623 194.5h1M630 194.5h2M699.5 194v2M790.5 194v4M455 195.5h7M613.5 195v2M624 195.5h2M628 195.5h3M455 196.5h1M532.5 196v7M592.5 196v4M626 196.5h2M446 197.5h2M454.5 197v2M612.5 197v6M791 197.5h1M444 198.5h2M447 198.5h1M792 198.5h2M442 199.5h2M448.5 199v4M453.5 199v3M794 199.5h2M822 199.5h2M440 200.5h2M591.5 200v2M796 200.5h2M819 200.5h3M824 200.5h2M439.5 201v2M798 201.5h2M817 201.5h2M826 201.5h2M264 202.5h7M424.5 202v3M449.5 202v3M452 202.5h1M590.5 202v2M800 202.5h2M814 202.5h3M828 202.5h2M259 203.5h5M271 203.5h2M425 203.5h1M431 203.5h4M438.5 203v2M450 203.5h2M530 203.5h2M611.5 203v5M802 203.5h2M811 203.5h3M830 203.5h2M257 204.5h2M272.5 204v5M426 204.5h5M437 204.5h1M529.5 204v2M589.5 204v4M804 204.5h2M809 204.5h2M832 204.5h2M254 205.5h3M339.5 205v4M423.5 205v2M436 205.5h1M450 205.5h1M528 205.5h1M806 205.5h3M834 205.5h2M230 206.5h2M253 206.5h1M338 206.5h1M422 206.5h1M435 206.5h1M451.5 206v2M526 206.5h2M612.5 206v3M836 206.5h2M228 207.5h2M232 207.5h3M252 207.5h1M334 207.5h4M419 207.5h3M524 207.5h2M590 207.5h1M838 207.5h1M226 208.5h2M235 208.5h2M251 208.5h1M330 208.5h4M418 208.5h1M450.5 208v2M523 208.5h1M591 208.5h2M610.5 208v2M839.5 208v2M216 209.5h10M237 209.5h1M249 209.5h2M273.5 209v2M329 209.5h1M340.5 209v5M417.5 209v2M521 209.5h2M593 209.5h1M613.5 209v5M214 210.5h2M238 210.5h1M247 210.5h2M327 210.5h2M449 210.5h1M519 210.5h2M594 210.5h1M609.5 210v2M840.5 210v2M216 211.5h1M239 211.5h2M246 211.5h1M274.5 211v2M325 211.5h2M416 211.5h1M448 211.5h1M518 211.5h1M595 211.5h4M605 211.5h4M217 212.5h1M241 212.5h2M245 212.5h1M324 212.5h1M415 212.5h1M447.5 212v2M517.5 212v2M599 212.5h2M603 212.5h2M841 212.5h1M218 213.5h1M243 213.5h2M275.5 213v5M323.5 213v2M414 213.5h1M601 213.5h2M842.5 213v2M219 214.5h2M341 214.5h2M413 214.5h1M446.5 214v2M516 214.5h1M614.5 214v2M221 215.5h1M322.5 215v2M343.5 215v6M344 215.5h1M412 215.5h1M515 215.5h1M843.5 215v2M220 216.5h1M411.5 216v2M445.5 216v9M516.5 216v2M615 216.5h1M219 217.5h1M321.5 217v2M616.5 217v2M844 217.5h1M218 218.5h1M274.5 218v2M410 218.5h1M517.5 218v2M629.5 218v2M842 218.5h2M217 219.5h1M319 219.5h2M409 219.5h1M617.5 219v2M630 219.5h1M840 219.5h2M216 220.5h1M272 220.5h2M318.5 220v2M408 220.5h1M516 220.5h1M628 220.5h1M838 220.5h2M214 221.5h2M271 221.5h1M342 221.5h1M406 221.5h2M515 221.5h1M618 221.5h2M626 221.5h2M637.5 221v5M836 221.5h2M209 222.5h5M269 222.5h2M317.5 222v8M341.5 222v2M405 222.5h1M513 222.5h2M620 222.5h2M625.5 222v3M627.5 222v3M636.5 222v2M834 222.5h2M268 223.5h1M406 223.5h1M511.5 223v3M624.5 223v3M628 223.5h1M635 223.5h1M639 223.5h1M649 223.5h2M831 223.5h1M266 224.5h2M340 224.5h1M405 224.5h1M622.5 224v3M623.5 224v3M626 224.5h1M629.5 224v2M640 224.5h1M647 224.5h2M650.5 224v8M693 224.5h4M699 224.5h2M832 224.5h1M265 225.5h1M339 225.5h1M404 225.5h1M444.5 225v5M618 225.5h4M628 225.5h1M634 225.5h3M638 225.5h2M641.5 225v2M645 225.5h2M692 225.5h1M697 225.5h2M701 225.5h5M729 225.5h2M833 225.5h1M264 226.5h1M338.5 226v3M403 226.5h1M512.5 226v3M618 226.5h1M621 226.5h1M625 226.5h3M630 226.5h1M632 226.5h2M639 226.5h2M642 226.5h3M690 226.5h2M706.5 226v2M725 226.5h4M731 226.5h1M740 226.5h5M834 226.5h1M263 227.5h1M402 227.5h1M617.5 227v2M625 227.5h3M631 227.5h1M638 227.5h2M689 227.5h1M723 227.5h2M732 227.5h8M744.5 227v2M835.5 227v2M261 228.5h2M400 228.5h2M625 228.5h1M627.5 228v2M687 228.5h2M707 228.5h2M721 228.5h2M259 229.5h2M337 229.5h1M398 229.5h2M513.5 229v2M616 229.5h1M685 229.5h2M709 229.5h2M719 229.5h2M737 229.5h1M742.5 229v5M743 229.5h1M836 229.5h1M257 230.5h2M316.5 230v8M336 230.5h1M398 230.5h1M443 230.5h1M615 230.5h1M684 230.5h1M711 230.5h8M732 230.5h5M837 230.5h1M256 231.5h1M335.5 231v2M397 231.5h1M442 231.5h1M514.5 231v3M612 231.5h3M683 231.5h1M731 231.5h5M838 231.5h1M255.5 232v3M396 232.5h1M441 232.5h1M611 232.5h1M651.5 232v2M682 232.5h1M731 232.5h2M735 232.5h1M839.5 232v2M334 233.5h1M395.5 233v5M440 233.5h1M609 233.5h2M681 233.5h1M729 233.5h3M734 233.5h1M333.5 234v2M439.5 234v2M515 234.5h1M607 234.5h2M652 234.5h2M680.5 234v2M728 234.5h3M743.5 234v5M840 234.5h1M256.5 235v2M516 235.5h2M605 235.5h2M651 235.5h2M841.5 235v2M332.5 236v2M437 236.5h2M518 236.5h1M597 236.5h8M650.5 236v2M679.5 236v2M257.5 237v2M436 237.5h1M519 237.5h1M595 237.5h2M738 237.5h1M842 237.5h1M315.5 238v5M333 238.5h2M394.5 238v2M435.5 238v4M520 238.5h2M595 238.5h1M649.5 238v3M677 238.5h2M739.5 238v6M740 238.5h3M744.5 238v4M843.5 238v2M256 239.5h1M335 239.5h2M522 239.5h1M594.5 239v2M675 239.5h2M737 239.5h2M742.5 239v3M745.5 239v2M255 240.5h1M337 240.5h2M395.5 240v2M523 240.5h1M674.5 240v2M731 240.5h4M736.5 240v4M737 240.5h2M740.5 240v4M741.5 240v3M743.5 240v2M844 240.5h1M254.5 241v2M339 241.5h1M524.5 241v2M592 241.5h2M648.5 241v4M729 241.5h2M735 241.5h1M738 241.5h1M845.5 241v2M340 242.5h1M348 242.5h2M396.5 242v3M436.5 242v2M590 242.5h2M675.5 242v2M727 242.5h2M252.5 243v4M253 243.5h1M314.5 243v2M341 243.5h7M350 243.5h1M525.5 243v2M589 243.5h1M725 243.5h2M737 243.5h2M846 243.5h1M351 244.5h2M397 244.5h1M437.5 244v3M526 244.5h1M588 244.5h1M674.5 244v2M724 244.5h1M847.5 244v2M313.5 245v3M353 245.5h2M392 245.5h4M527.5 245v2M585 245.5h3M649 245.5h1M723 245.5h1M355 246.5h1M392 246.5h1M585 246.5h1M650 246.5h1M673 246.5h1M722.5 246v2M848 246.5h1M253.5 247v2M356 247.5h1M391.5 247v8M438.5 247v2M528.5 247v3M584.5 247v3M651 247.5h2M672 247.5h1M849 247.5h1M314.5 248v3M357.5 248v2M653 248.5h5M664 248.5h1M668 248.5h4M699 248.5h4M720 248.5h2M850.5 248v2M254.5 249v2M439 249.5h1M658 249.5h2M662 249.5h2M665 249.5h3M701.5 249v2M716 249.5h2M719.5 249v2M358 250.5h3M440 250.5h1M527.5 250v3M583.5 250v2M660 250.5h2M715.5 250v2M718 250.5h1M851 250.5h1M215 251.5h2M255 251.5h2M313.5 251v2M361 251.5h2M441 251.5h1M582 251.5h1M702 251.5h1M852 251.5h1M214.5 252v2M217.5 252v3M257 252.5h2M360 252.5h2M363 252.5h2M442.5 252v5M579 252.5h3M703.5 252v3M709.5 252v7M714 252.5h1M853.5 252v2M259 253.5h1M311 253.5h2M358 253.5h2M365 253.5h2M526.5 253v3M578 253.5h1M704.5 253v4M708 253.5h1M710 253.5h4M212 254.5h2M260 254.5h1M305 254.5h6M357 254.5h1M367 254.5h4M387 254.5h4M577.5 254v2M854 254.5h1M210 255.5h2M218.5 255v2M261 255.5h2M304 255.5h1M356 255.5h1M371 255.5h1M373 255.5h3M379 255.5h8M708 255.5h1M853 255.5h1M209 256.5h1M263 256.5h1M300 256.5h4M355 256.5h1M372 256.5h1M376 256.5h3M525.5 256v2M576.5 256v2M705 256.5h3M852.5 256v2M208 257.5h1M219 257.5h1M264 257.5h1M297 257.5h3M354 257.5h1M443.5 257v2M703.5 257v2M220 258.5h1M265 258.5h1M292 258.5h5M353.5 258v5M524 258.5h1M575.5 258v4M701 258.5h2M851 258.5h1M221 259.5h1M266 259.5h1M287 259.5h5M442.5 259v2M523 259.5h1M702.5 259v2M850 259.5h1M222.5 260v2M267 260.5h2M278 260.5h2M283 260.5h4M522.5 260v2M849.5 260v2M269 261.5h1M274 261.5h9M441.5 261v2M700.5 261v5M703.5 261v2M223 262.5h2M270 262.5h1M272 262.5h2M280 262.5h1M521.5 262v4M574.5 262v2M697 262.5h3M848 262.5h1M225 263.5h1M271 263.5h1M281 263.5h3M352.5 263v6M440.5 263v2M697.5 263v2M702.5 263v4M847.5 263v2M226 264.5h1M284.5 264v2M573.5 264v2M694 264.5h3M698 264.5h2M701.5 264v3M703 264.5h3M227 265.5h1M439 265.5h1M705 265.5h2M846.5 265v2M228 266.5h1M285.5 266v2M438 266.5h1M520.5 266v9M572.5 266v2M699.5 266v4M703 266.5h1M229 267.5h2M437.5 267v5M845.5 267v3M230.5 268v2M286 268.5h1M571.5 268v3M689 268.5h4M287 269.5h1M351.5 269v5M688.5 269v4M691 269.5h1M700 269.5h2M231.5 270v3M288 270.5h1M687 270.5h1M689.5 270v3M690 270.5h1M701.5 270v3M846.5 270v5M289 271.5h2M568 271.5h3M691 271.5h1M291.5 272v2M338 272.5h13M436.5 272v5M567 272.5h1M687.5 272v4M690 272.5h1M229 273.5h2M336.5 273v4M337 273.5h1M566.5 273v2M686 273.5h1M691 273.5h5M698 273.5h3M886 273.5h1M228 274.5h1M292 274.5h1M352.5 274v3M519 274.5h1M685 274.5h1M688.5 274v2M696 274.5h2M884 274.5h2M227 275.5h1M293 275.5h1M518 275.5h1M564 275.5h2M686 275.5h1M847.5 275v3M882 275.5h2M228 276.5h1M294.5 276v2M517 276.5h1M562 276.5h2M689 276.5h3M881 276.5h1M229 277.5h1M295 277.5h1M335.5 277v5M353.5 277v2M435.5 277v12M515 277.5h2M562 277.5h1M691 277.5h2M879 277.5h2M230.5 278v2M296 278.5h2M514.5 278v2M561.5 278v2M691 278.5h1M848.5 278v2M877 278.5h2M298.5 279v2M354 279.5h4M690 279.5h1M876 279.5h1M231 280.5h1M358 280.5h2M515.5 280v6M562.5 280v4M689.5 280v2M849 280.5h1M874 280.5h2M232 281.5h1M299 281.5h2M360 281.5h3M850.5 281v2M872 281.5h2M233 282.5h1M301 282.5h1M333 282.5h2M363 282.5h2M687 282.5h2M871 282.5h1M234 283.5h1M300.5 283v2M332.5 283v2M365 283.5h4M687 283.5h1M851.5 283v2M870 283.5h1M235 284.5h1M369 284.5h1M563 284.5h1M686.5 284v2M869 284.5h1M236.5 285v4M299 285.5h1M331.5 285v2M370 285.5h3M516 285.5h1M564 285.5h1M684.5 285v4M685 285.5h1M852 285.5h1M868.5 285v2M300.5 286v2M373 286.5h3M517 286.5h2M565 286.5h1M853 286.5h1M330.5 287v2M376 287.5h2M519 287.5h4M566.5 287v2M854.5 287v2M867 287.5h1M301.5 288v2M378 288.5h1M521 288.5h1M523 288.5h7M683 288.5h1M866 288.5h1M237.5 289v2M329 289.5h1M379 289.5h2M436.5 289v2M520.5 289v12M530 289.5h3M536 289.5h2M560 289.5h2M567.5 289v4M583 289.5h2M681 289.5h2M855 289.5h1M865 289.5h1M302.5 290v5M330 290.5h1M381 290.5h2M533 290.5h3M538 290.5h3M559 290.5h1M562 290.5h4M581 290.5h2M584 290.5h1M679 290.5h2M856 290.5h1M864 290.5h1M238 291.5h1M331.5 291v2M383 291.5h2M437.5 291v7M541 291.5h3M558 291.5h1M565 291.5h1M580 291.5h1M583.5 291v3M679 291.5h1M857 291.5h1M863.5 291v2M239 292.5h1M385 292.5h2M544 292.5h2M557 292.5h1M566.5 292v5M578 292.5h2M678.5 292v4M858.5 292v2M240.5 293v2M332.5 293v5M387 293.5h1M546 293.5h11M577 293.5h1M862 293.5h1M388 294.5h2M576 294.5h1M581 294.5h2M859 294.5h1M861 294.5h1M241.5 295v2M303.5 295v2M390.5 295v6M575 295.5h1M580 295.5h1M860 295.5h1M573 296.5h2M579 296.5h1M677.5 296v2M240 297.5h1M304.5 297v2M333 297.5h1M565.5 297v5M571 297.5h2M578 297.5h1M239 298.5h1M334 298.5h5M438.5 298v2M569 298.5h2M577 298.5h1M676.5 298v2M238.5 299v2M305.5 299v3M339 299.5h2M567 299.5h2M575 299.5h2M341 300.5h1M437.5 300v3M566 300.5h1M574 300.5h1M674 300.5h2M239.5 301v5M342 301.5h1M391.5 301v2M519.5 301v10M571 301.5h3M674 301.5h1M306.5 302v2M343.5 302v2M570 302.5h1M673.5 302v2M390 303.5h1M438.5 303v4M569 303.5h1M305 304.5h1M344.5 304v2M389 304.5h1M568.5 304v2M672 304.5h1M304 305.5h1M388 305.5h1M671.5 305v3M237 306.5h2M302 306.5h2M343 306.5h1M387 306.5h1M566 306.5h2M235 307.5h2M302 307.5h1M342.5 307v4M386.5 307v2M439 307.5h1M565 307.5h1M233 308.5h2M303.5 308v2M440.5 308v3M564 308.5h1M670 308.5h1M233 309.5h1M385 309.5h1M563.5 309v2M669 309.5h1M232.5 310v5M304.5 310v2M384 310.5h1M667 310.5h2M341 311.5h1M385.5 311v2M441.5 311v3M518.5 311v2M562 311.5h1M662 311.5h3M668 311.5h2M305 312.5h2M332 312.5h9M517 312.5h1M561 312.5h1M660.5 312v3M661 312.5h1M670.5 312v4M307 313.5h1M332 313.5h1M386.5 313v5M516 313.5h1M560.5 313v2M308 314.5h3M331.5 314v3M440.5 314v3M515 314.5h1M231 315.5h1M311 315.5h1M513 315.5h2M559 315.5h1M659.5 315v3M229 316.5h2M312 316.5h1M511 316.5h2M558 316.5h1M669.5 316v2M227 317.5h2M313.5 317v2M330.5 317v3M439.5 317v5M506 317.5h5M556 317.5h2M658 317.5h1M225 318.5h2M387.5 318v2M505 318.5h1M555.5 318v2M657 318.5h1M670 318.5h2M223 319.5h2M314 319.5h2M504 319.5h1M656 319.5h1M672 319.5h2M222 320.5h1M316 320.5h1M331 320.5h1M388.5 320v2M501 320.5h3M554.5 320v3M655.5 320v2M674 320.5h4M221 321.5h1M317 321.5h6M332.5 321v4M500 321.5h1M605 321.5h2M678 321.5h2M219 322.5h2M323 322.5h1M387.5 322v2M438 322.5h1M496 322.5h4M601 322.5h4M607 322.5h2M654.5 322v2M680 322.5h1M218 323.5h1M324 323.5h1M437.5 323v3M479.5 323v7M480 323.5h3M491 323.5h5M553.5 323v3M599 323.5h2M609.5 323v2M681 323.5h1M683 323.5h2M217 324.5h1M325 324.5h2M386.5 324v2M483 324.5h8M554 324.5h5M598 324.5h1M653.5 324v3M682 324.5h1M685 324.5h4M216 325.5h1M327 325.5h2M331 325.5h1M383 325.5h3M559 325.5h3M596 325.5h2M610 325.5h1M689 325.5h2M215 326.5h1M329 326.5h2M365 326.5h18M436.5 326v3M562 326.5h3M595.5 326v6M611 326.5h1M635 326.5h2M691 326.5h1M694 326.5h2M214 327.5h1M329 327.5h1M363 327.5h2M565 327.5h1M612 327.5h1M635 327.5h1M637 327.5h4M652 327.5h1M692 327.5h2M696 327.5h4M213.5 328v2M364 328.5h1M566 328.5h1M613 328.5h1M633 328.5h2M641 328.5h2M651 328.5h1M700 328.5h2M365.5 329v3M435.5 329v4M478 329.5h1M567.5 329v2M614 329.5h1M632.5 329v2M643 329.5h2M650 329.5h1M701 329.5h1M212 330.5h1M476 330.5h2M615 330.5h1M622 330.5h5M645.5 330v2M649 330.5h1M700.5 330v2M211 331.5h1M472 331.5h4M568 331.5h2M594.5 331v3M596 331.5h1M616 331.5h1M620 331.5h2M627 331.5h5M647 331.5h2M210.5 332v2M366.5 332v2M471.5 332v2M570.5 332v2M593 332.5h1M597 332.5h4M617 332.5h3M646 332.5h1M701 332.5h2M334 333.5h2M339 333.5h5M434.5 333v2M591 333.5h2M601 333.5h2M703 333.5h1M209.5 334v8M332 334.5h2M336 334.5h3M344 334.5h3M367.5 334v2M469 334.5h2M571 334.5h2M587 334.5h4M592 334.5h2M603 334.5h1M704 334.5h1M331.5 335v6M347 335.5h2M355 335.5h2M365 335.5h2M368 335.5h1M435.5 335v3M467 335.5h2M573 335.5h1M582 335.5h5M591 335.5h1M604 335.5h3M705.5 335v2M349 336.5h2M353 336.5h2M357 336.5h8M465 336.5h2M574 336.5h8M592 336.5h2M607 336.5h2M351 337.5h2M460 337.5h5M594 337.5h1M609 337.5h1M706.5 337v2M434.5 338v7M457 338.5h3M595.5 338v2M610 338.5h1M452 339.5h5M611 339.5h1M707.5 339v2M450 340.5h2M596 340.5h2M612 340.5h1M332.5 341v2M448 341.5h2M598 341.5h2M613 341.5h1M708.5 341v4M208.5 342v2M444 342.5h4M600 342.5h1M614 342.5h1M331.5 343v2M440 343.5h4M601 343.5h1M615 343.5h5M209 344.5h2M438 344.5h2M602 344.5h1M620 344.5h1M211 345.5h1M329 345.5h2M435.5 345v4M436 345.5h2M603.5 345v2M621 345.5h1M709.5 345v2M212 346.5h1M327 346.5h2M622 346.5h8M213 347.5h1M326.5 347v2M604.5 347v2M630 347.5h2M710.5 347v2M214 348.5h1M632 348.5h1M215.5 349v2M327 349.5h2M436 349.5h1M605.5 349v2M633 349.5h1M711 349.5h1M329 350.5h3M437 350.5h1M634 350.5h2M712 350.5h2M216 351.5h1M332 351.5h3M438.5 351v2M579.5 351v9M580 351.5h7M604 351.5h1M636.5 351v2M713.5 351v3M215 352.5h1M335.5 352v2M587.5 352v2M603 352.5h1M647 352.5h2M214 353.5h1M232 353.5h5M439 353.5h1M602 353.5h1M637.5 353v2M644 353.5h3M648 353.5h1M212 354.5h2M230 354.5h2M237.5 354v3M336 354.5h1M440 354.5h1M588.5 354v2M601 354.5h1M638 354.5h6M647.5 354v5M714 354.5h2M211.5 355v2M229 355.5h1M337.5 355v3M441.5 355v2M600.5 355v2M715.5 355v3M227 356.5h2M589 356.5h2M209 357.5h2M225 357.5h2M238.5 357v2M442 357.5h1M591 357.5h1M599 357.5h1M716 357.5h1M208 358.5h1M223 358.5h2M336.5 358v2M443.5 358v2M592 358.5h1M598 358.5h1M717 358.5h2M222 359.5h1M239.5 359v3M593 359.5h1M596 359.5h2M646.5 359v2M719 359.5h1M221 360.5h1M334 360.5h2M444.5 360v7M578.5 360v8M594 360.5h2M720 360.5h1M219 361.5h2M333 361.5h1M645.5 361v3M721 361.5h1M218 362.5h1M240.5 362v4M332.5 362v2M722.5 362v2M217 363.5h1M215 364.5h2M331.5 364v3M644.5 364v4M723.5 364v2M214 365.5h1M215 366.5h1M241.5 366v2M724.5 366v4M216.5 367v2M242 367.5h2M332.5 367v3M445 367.5h1M577 367.5h1M244 368.5h2M446 368.5h1M574 368.5h3M645 368.5h1M217.5 369v2M246 369.5h1M447 369.5h2M572.5 369v7M573 369.5h1M646 369.5h2M247 370.5h3M333.5 370v3M449 370.5h1M648 370.5h1M725.5 370v4M218 371.5h1M250 371.5h2M450 371.5h1M649 371.5h1M219 372.5h1M252 372.5h2M451.5 372v2M650.5 372v2M673 372.5h2M220.5 373v2M254 373.5h10M334.5 373v4M669 373.5h4M675 373.5h2M264.5 374v2M452 374.5h2M651.5 374v2M669 374.5h1M677.5 374v2M726 374.5h2M219.5 375v2M454.5 375v2M668.5 375v2M727.5 375v2M265 376.5h1M319 376.5h2M571.5 376v2M652 376.5h1M678 376.5h2M728 376.5h2M218 377.5h1M266 377.5h1M316 377.5h3M321 377.5h3M332 377.5h2M455.5 377v6M653 377.5h1M667.5 377v2M679 377.5h1M730 377.5h1M217 378.5h1M267.5 378v2M314 378.5h2M324 378.5h8M569 378.5h2M654 378.5h2M680.5 378v2M731 378.5h3M216.5 379v2M314 379.5h1M568.5 379v2M656 379.5h2M666.5 379v2M734 379.5h1M268.5 380v2M313.5 380v2M562 380.5h6M658 380.5h5M681.5 380v2M735 380.5h3M215 381.5h1M562 381.5h1M663 381.5h3M738 381.5h2M214 382.5h1M269 382.5h1M312 382.5h1M563.5 382v5M680 382.5h1M739.5 382v3M212 383.5h2M270 383.5h2M311 383.5h1M454.5 383v5M667 383.5h2M679 383.5h1M210 384.5h2M271 384.5h1M312.5 384v2M666.5 384v5M669 384.5h2M678 384.5h1M209 385.5h1M272.5 385v4M414.5 385v2M441 385.5h2M455.5 385v3M671 385.5h2M677 385.5h1M740 385.5h1M208 386.5h1M313.5 386v4M415 386.5h8M426 386.5h7M440.5 386v2M442 386.5h3M453.5 386v2M564 386.5h3M673 386.5h4M741 386.5h1M744 386.5h3M413.5 387v3M423 387.5h3M433 387.5h3M437 387.5h3M441 387.5h1M444 387.5h2M450 387.5h3M567 387.5h1M742 387.5h2M747 387.5h4M436 388.5h2M446 388.5h1M448 388.5h2M451 388.5h2M456 388.5h2M568 388.5h1M750 388.5h1M273.5 389v5M412 389.5h1M435 389.5h1M447 389.5h4M458 389.5h1M569 389.5h1M667.5 389v3M751.5 389v2M314 390.5h1M414 390.5h7M459 390.5h1M570.5 390v4M752 390.5h2M315 391.5h1M421 391.5h2M460 391.5h1M754.5 391v2M316.5 392v2M422.5 392v2M461 392.5h1M668.5 392v2M462 393.5h1M755 393.5h2M272.5 394v5M315.5 394v2M423.5 394v2M463.5 394v2M571 394.5h2M591.5 394v9M667.5 394v2M756.5 394v4M424 395.5h5M464.5 395v2M571 395.5h1M573 395.5h3M590 395.5h1M314.5 396v4M429 396.5h1M465.5 396v2M572.5 396v2M576 396.5h2M588 396.5h2M666.5 396v2M430 397.5h2M466.5 397v2M578 397.5h2M587 397.5h1M751 397.5h3M432.5 398v2M467.5 398v2M580 398.5h1M586 398.5h1M733 398.5h1M736 398.5h1M749 398.5h2M754 398.5h2M273 399.5h1M304 399.5h3M311 399.5h3M315 399.5h1M468.5 399v2M581 399.5h1M584 399.5h2M734 399.5h2M737 399.5h4M756 399.5h1M274 400.5h1M301 400.5h3M307 400.5h4M316 400.5h2M433.5 400v2M469.5 400v2M582 400.5h2M736.5 400v2M738 400.5h1M741 400.5h2M752 400.5h4M757.5 400v2M275 401.5h1M299 401.5h2M318 401.5h5M470 401.5h2M739 401.5h1M743 401.5h9M758 401.5h1M276 402.5h1M297 402.5h2M323 402.5h2M434.5 402v2M470 402.5h5M737.5 402v2M740 402.5h2M754 402.5h3M277 403.5h5M295 403.5h2M325 403.5h2M342 403.5h7M475 403.5h2M592.5 403v2M742 403.5h2M749 403.5h5M282 404.5h1M293 404.5h2M327 404.5h2M337 404.5h5M349 404.5h1M433 404.5h1M477 404.5h5M530 404.5h2M738.5 404v2M744 404.5h5M283 405.5h4M292 405.5h1M329 405.5h8M350.5 405v2M423 405.5h3M432 405.5h1M479 405.5h2M482.5 405v2M517 405.5h2M529 405.5h1M532.5 405v3M593.5 405v8M749 405.5h2M287 406.5h2M291 406.5h1M418 406.5h5M426 406.5h6M481 406.5h1M483 406.5h1M506 406.5h11M519 406.5h2M528 406.5h1M739.5 406v2M751 406.5h2M289 407.5h2M351.5 407v2M417 407.5h1M484 407.5h5M496 407.5h10M521 407.5h2M526 407.5h2M753 407.5h1M416 408.5h1M487 408.5h5M494 408.5h2M497 408.5h2M523 408.5h3M533.5 408v2M665 408.5h1M738.5 408v4M754 408.5h1M352 409.5h2M415.5 409v7M489 409.5h8M666 409.5h5M755 409.5h2M354 410.5h4M534.5 410v3M671.5 410v2M757 410.5h1M358 411.5h2M758 411.5h1M360 412.5h4M672 412.5h2M737.5 412v2M759.5 412v2M361 413.5h1M364 413.5h2M535.5 413v5M594.5 413v5M674 413.5h2M362 414.5h2M366 414.5h1M675 414.5h1M736.5 414v2M760 414.5h1M364 415.5h1M367.5 415v2M378 415.5h6M676.5 415v2M761 415.5h1M365 416.5h2M368 416.5h1M376 416.5h2M383 416.5h3M416.5 416v5M735.5 416v6M762.5 416v2M369 417.5h2M375.5 417v2M377 417.5h6M385 417.5h2M593 417.5h1M677.5 417v2M370 418.5h5M376 418.5h1M384.5 418v2M387 418.5h1M536.5 418v2M589 418.5h4M761.5 418v2M781 418.5h3M372 419.5h1M388 419.5h3M588 419.5h1M676 419.5h1M691 419.5h2M734.5 419v2M383.5 420v2M391 420.5h2M537 420.5h2M544 420.5h2M548 420.5h2M587 420.5h1M675 420.5h1M688 420.5h3M693 420.5h3M760.5 420v2M787 420.5h2M393 421.5h3M417.5 421v3M539 421.5h2M542 421.5h2M546 421.5h6M556.5 421v3M585 421.5h2M674 421.5h1M687 421.5h1M696 421.5h2M733 421.5h1M382.5 422v2M396 422.5h3M541 422.5h1M544 422.5h2M551 422.5h5M584 422.5h1M673 422.5h1M681 422.5h2M685 422.5h2M698 422.5h1M703 422.5h5M732 422.5h1M736.5 422v2M758 422.5h2M399 423.5h2M540 423.5h1M542 423.5h2M553 423.5h1M583.5 423v2M674 423.5h2M678 423.5h3M683 423.5h2M699.5 423v5M700 423.5h3M708 423.5h2M731 423.5h1M753 423.5h5M778 423.5h2M381 424.5h1M401 424.5h1M418.5 424v8M557.5 424v2M676 424.5h2M710 424.5h2M730.5 424v2M737 424.5h1M752.5 424v2M382 425.5h1M402 425.5h1M582 425.5h1M712 425.5h2M716 425.5h5M738 425.5h1M383 426.5h1M403 426.5h1M558 426.5h2M573 426.5h2M581.5 426v2M714 426.5h2M721 426.5h2M728 426.5h2M739 426.5h1M750 426.5h2M773 426.5h2M384 427.5h1M404 427.5h1M560 427.5h1M570 427.5h3M574 427.5h1M580.5 427v3M723 427.5h2M727 427.5h1M740 427.5h1M749 427.5h1M767 427.5h2M385 428.5h1M405 428.5h1M561 428.5h2M568 428.5h2M575.5 428v2M579 428.5h1M698.5 428v2M725 428.5h2M741 428.5h2M747 428.5h2M386 429.5h2M406 429.5h2M563 429.5h5M577 429.5h2M725 429.5h1M743 429.5h4M388.5 430v3M408 430.5h1M576 430.5h1M581.5 430v2M697.5 430v4M745 430.5h1M409 431.5h9M419 431.5h2M744 431.5h1M421 432.5h2M582 432.5h1M743 432.5h1M776 432.5h1M387.5 433v2M422 433.5h1M583 433.5h1M741 433.5h2M773.5 433v4M774 433.5h2M423.5 434v2M584 434.5h2M696.5 434v2M740 434.5h1M774 434.5h1M781 434.5h1M385 435.5h2M586 435.5h2M739 435.5h1M780 435.5h1M384 436.5h1M424 436.5h3M588 436.5h1M695 436.5h1M738.5 436v2M772.5 436v3M774 436.5h2M779.5 436v7M383 437.5h1M427 437.5h2M589 437.5h7M694 437.5h1M775 437.5h4M786 437.5h3M381 438.5h2M429 438.5h2M596 438.5h2M693 438.5h1M737.5 438v2M769 438.5h3M776 438.5h3M789 438.5h2M380 439.5h1M431 439.5h2M598 439.5h2M692.5 439v2M770 439.5h1M777 439.5h2M780.5 439v5M782 439.5h4M379.5 440v2M433 440.5h2M600 440.5h1M725 440.5h5M736 440.5h1M748 440.5h1M766.5 440v6M767 440.5h3M771 440.5h1M777 440.5h2M781 440.5h4M435.5 441v6M599.5 441v2M693.5 441v2M730 441.5h6M743 441.5h2M747 441.5h1M749 441.5h2M765 441.5h1M767 441.5h4M776.5 441v4M778 441.5h1M781 441.5h3M378.5 442v2M731.5 442v4M742 442.5h1M745 442.5h2M751 442.5h4M769 442.5h2M774 442.5h2M777.5 442v3M781.5 442v2M783 442.5h1M377 443.5h1M598 443.5h1M694 443.5h1M741 443.5h1M755 443.5h2M765.5 443v3M775.5 443v4M375 444.5h2M597.5 444v2M695 444.5h1M739 444.5h2M757 444.5h1M768 444.5h3M779 444.5h1M782 444.5h1M374.5 445v3M696.5 445v3M738.5 445v2M758 445.5h2M767 445.5h2M770 445.5h1M773 445.5h2M778 445.5h1M596.5 446v2M732.5 446v2M760 446.5h1M768 446.5h2M774 446.5h1M434.5 447v2M694 447.5h2M697 447.5h1M733 447.5h5M761 447.5h1M769.5 447v7M770 447.5h2M776.5 447v4M375.5 448v3M595 448.5h1M693 448.5h1M762 448.5h3M770 448.5h3M779.5 448v4M433.5 449v2M594.5 449v2M687 449.5h6M765 449.5h2M772 449.5h3M777.5 449v5M778.5 449v2M685 450.5h2M770 450.5h1M773 450.5h2M374.5 451v2M434.5 451v2M595 451.5h1M683 451.5h2M771.5 451v3M774 451.5h1M596 452.5h1M683 452.5h1M772 452.5h2M776 452.5h1M373 453.5h1M435.5 453v2M597 453.5h1M684.5 453v6M770.5 453v2M772 453.5h1M372 454.5h1M598.5 454v2M371.5 455v2M427 455.5h5M434.5 455v2M761 455.5h4M771 455.5h3M775.5 455v4M426 456.5h1M432 456.5h1M599.5 456v2M762.5 456v4M774 456.5h1M777.5 456v3M365 457.5h2M370.5 457v2M425 457.5h1M433 457.5h1M760.5 457v7M761.5 457v4M763 457.5h3M364 458.5h1M367 458.5h3M423 458.5h2M600.5 458v2M763 458.5h4M776 458.5h1M359 459.5h5M421 459.5h2M683.5 459v2M756.5 459v3M757.5 459v4M763 459.5h4M358.5 460v2M420 460.5h1M601 460.5h1M764.5 460v10M765 460.5h2M419 461.5h1M602 461.5h1M682.5 461v3M759.5 461v5M762 461.5h2M359.5 462v3M418 462.5h1M603.5 462v2M758.5 462v2M761 462.5h3M765.5 462v5M778 462.5h2M404 463.5h2M416 463.5h2M761 463.5h1M766.5 463v4M402 464.5h2M406 464.5h1M411 464.5h1M415 464.5h1M604 464.5h1M681.5 464v2M762 464.5h2M767.5 464v2M358.5 465v2M393 465.5h2M401 465.5h1M407 465.5h1M409 465.5h2M412 465.5h1M414 465.5h1M605.5 465v3M624 465.5h2M758 465.5h1M768 465.5h4M392 466.5h1M395 466.5h1M400 466.5h1M408 466.5h1M413 466.5h1M618 466.5h6M625 466.5h1M680.5 466v3M760 466.5h2M768 466.5h2M772 466.5h2M357.5 467v2M388 467.5h4M396 467.5h1M398 467.5h2M618 467.5h1M626.5 467v2M762 467.5h2M768 467.5h3M773.5 467v2M777 467.5h1M386 468.5h2M397 468.5h1M606.5 468v2M617.5 468v2M763.5 468v3M765 468.5h1M772.5 468v2M774.5 468v4M775.5 468v4M776 468.5h1M356 469.5h1M385.5 469v2M627 469.5h1M638 469.5h4M679.5 469v2M761 469.5h2M769.5 469v6M771 469.5h1M355 470.5h1M607.5 470v5M616 470.5h1M628 470.5h1M636 470.5h2M642 470.5h2M762 470.5h1M766.5 470v14M767 470.5h2M770 470.5h1M311 471.5h2M353 471.5h2M386.5 471v2M615 471.5h1M626 471.5h2M636 471.5h1M644 471.5h1M677 471.5h2M760.5 471v3M761.5 471v6M765.5 471v4M768.5 471v2M773 471.5h1M310 472.5h1M313 472.5h5M352.5 472v2M614 472.5h1M625.5 472v2M635 472.5h1M645 472.5h1M675 472.5h2M758 472.5h2M762.5 472v4M764.5 472v3M776.5 472v5M309 473.5h1M318 473.5h2M387.5 473v2M609 473.5h5M634.5 473v2M646 473.5h1M674 473.5h1M767.5 473v4M775 473.5h1M777 473.5h4M308 474.5h1M320 474.5h2M332 474.5h3M351.5 474v2M388 474.5h1M608 474.5h1M624.5 474v3M647 474.5h2M673 474.5h1M763.5 474v3M768 474.5h1M770.5 474v5M772.5 474v6M307 475.5h1M322 475.5h2M330 475.5h2M334 475.5h1M389 475.5h2M594 475.5h2M605 475.5h2M633.5 475v2M649 475.5h2M672 475.5h1M771.5 475v5M305 476.5h2M324 476.5h6M335.5 476v2M350 476.5h1M390.5 476v3M591 476.5h3M596 476.5h2M603 476.5h2M651 476.5h6M660 476.5h5M671 476.5h1M765.5 476v6M768 476.5h2M304 477.5h1M349 477.5h1M450 477.5h9M589 477.5h2M598 477.5h5M623.5 477v2M631 477.5h2M657 477.5h3M664.5 477v13M670 477.5h1M760 477.5h1M764 477.5h1M768 477.5h1M775 477.5h1M305.5 478v2M336 478.5h1M348 478.5h1M448 478.5h4M456 478.5h9M588 478.5h1M629 478.5h2M669 478.5h1M767 478.5h1M769 478.5h1M337.5 479v2M347.5 479v2M389.5 479v5M447.5 479v3M448 479.5h1M465 479.5h4M587 479.5h1M624 479.5h5M668 479.5h1M764.5 479v2M306 480.5h2M466 480.5h7M534.5 480v2M586 480.5h1M667 480.5h1M763 480.5h1M307 481.5h1M338 481.5h2M345 481.5h2M471 481.5h5M533 481.5h1M585 481.5h1M665 481.5h2M308.5 482v3M340 482.5h5M446.5 482v2M475 482.5h9M532 482.5h1M535.5 482v3M581 482.5h4M770 482.5h1M481 483.5h5M515.5 483v2M531 483.5h1M578 483.5h3M767 483.5h3M771 483.5h1M774 483.5h2M388.5 484v2M447.5 484v2M486 484.5h3M514 484.5h1M530 484.5h1M576 484.5h2M768 484.5h3M772 484.5h1M307.5 485v2M448.5 485v2M487 485.5h4M513 485.5h1M516.5 485v2M529 485.5h1M536 485.5h1M575.5 485v2M767.5 485v2M769.5 485v5M770 485.5h2M387.5 486v2M449.5 486v4M490 486.5h3M511 486.5h2M528 486.5h1M537 486.5h1M574 486.5h1M306 487.5h1M385 487.5h2M392 487.5h1M492 487.5h2M509 487.5h2M517.5 487v2M527 487.5h1M538 487.5h2M572 487.5h2M765 487.5h2M768.5 487v4M305 488.5h1M386.5 488v2M391 488.5h1M393 488.5h1M430 488.5h6M448 488.5h1M493 488.5h2M507 488.5h2M525 488.5h2M539 488.5h1M571.5 488v2M765 488.5h1M303 489.5h2M389 489.5h2M394.5 489v4M428 489.5h2M435 489.5h6M446 489.5h2M494 489.5h3M502 489.5h5M518 489.5h1M524 489.5h1M540.5 489v5M665 489.5h1M756.5 489v2M766.5 489v3M770 489.5h1M302 490.5h1M387 490.5h2M424 490.5h4M438 490.5h2M441 490.5h2M445.5 490v2M447 490.5h2M496 490.5h2M500 490.5h2M519.5 490v2M523 490.5h1M569 490.5h2M666.5 490v2M767 490.5h1M771.5 490v2M301 491.5h1M423 491.5h1M440 491.5h2M443 491.5h2M446 491.5h1M496 491.5h1M498 491.5h2M522 491.5h1M566 491.5h3M667 491.5h3M755 491.5h1M299 492.5h2M395 492.5h1M421 492.5h2M442 492.5h3M497 492.5h1M499 492.5h1M520 492.5h2M564 492.5h2M670 492.5h1M756 492.5h1M767.5 492v2M298.5 493v2M396 493.5h3M418 493.5h3M520 493.5h1M557 493.5h7M671 493.5h1M757 493.5h1M768 493.5h2M399.5 494v2M416 494.5h2M539.5 494v3M555 494.5h2M672.5 494v2M756.5 494v2M769 494.5h1M297 495.5h1M416 495.5h1M554 495.5h1M755 495.5h1M757 495.5h2M770.5 495v2M296 496.5h1M400.5 496v2M415.5 496v3M553.5 496v2M673 496.5h2M758.5 496v2M297 497.5h1M538.5 497v2M675 497.5h1M760 497.5h2M768.5 497v4M769 497.5h1M298 498.5h1M399.5 498v3M552.5 498v2M676.5 498v3M760 498.5h1M762 498.5h3M299.5 499v2M414.5 499v3M539 499.5h2M551 499.5h1M759.5 499v2M765 499.5h2M400 500.5h6M541.5 500v2M549 500.5h2M756 500.5h3M767 500.5h1M300 501.5h1M406 501.5h2M542 501.5h4M548 501.5h1M677.5 501v2M755.5 501v3M762.5 501v3M301 502.5h1M408.5 502v2M413.5 502v4M546 502.5h2M761.5 502v4M763.5 502v3M302 503.5h1M548 503.5h1M678.5 503v2M758.5 503v2M760.5 503v2M303 504.5h1M409.5 504v2M549 504.5h1M756.5 504v2M759 504.5h1M304 505.5h1M548.5 505v2M679.5 505v3M762 505.5h1M305 506.5h4M360 506.5h3M410.5 506v10M412 506.5h1M754 506.5h2M308.5 507v5M358 507.5h2M363 507.5h2M411 507.5h1M549.5 507v2M756 507.5h2M357.5 508v2M365.5 508v2M680.5 508v6M757.5 508v2M762 508.5h1M550 509.5h2M756.5 509v3M758 509.5h2M761 509.5h1M356.5 510v2M366 510.5h1M375 510.5h3M381 510.5h2M552 510.5h1M684 510.5h4M760 510.5h1M367 511.5h2M373 511.5h2M378 511.5h3M382 511.5h1M553 511.5h2M681 511.5h3M688 511.5h3M755 511.5h1M757 511.5h2M309 512.5h1M355 512.5h1M369 512.5h4M383.5 512v2M554.5 512v3M690 512.5h1M751 512.5h4M310 513.5h1M354.5 513v2M689.5 513v5M754 513.5h5M311 514.5h1M384.5 514v2M679.5 514v2M753 514.5h1M312 515.5h2M353 515.5h1M555.5 515v5M752 515.5h1M314 516.5h2M352 516.5h1M385 516.5h1M411.5 516v14M678 516.5h1M750 516.5h2M316 517.5h1M350 517.5h2M386.5 517v5M677 517.5h1M749.5 517v5M317.5 518v3M348 518.5h2M676 518.5h1M690.5 518v2M315.5 519v3M346 519.5h2M675 519.5h1M316 520.5h1M318.5 520v2M344 520.5h2M556.5 520v2M674 520.5h1M691.5 520v2M258 521.5h5M330.5 521v2M342 521.5h2M387 521.5h1M672 521.5h2M255 522.5h3M263 522.5h5M314 522.5h1M319 522.5h2M329 522.5h1M341 522.5h1M388 522.5h2M557 522.5h1M670 522.5h2M692 522.5h1M748.5 522v2M254 523.5h1M268.5 523v2M311 523.5h3M321 523.5h2M328 523.5h1M331.5 523v3M340.5 523v2M390 523.5h2M558.5 523v2M666 523.5h4M693.5 523v3M253 524.5h1M308 524.5h3M323 524.5h1M327.5 524v2M392.5 524v4M661 524.5h5M749.5 524v2M252.5 525v4M269 525.5h1M307 525.5h1M324 525.5h1M339 525.5h1M557.5 525v2M656 525.5h5M739.5 525v5M267 526.5h2M306 526.5h1M325 526.5h2M332 526.5h2M338.5 526v2M654 526.5h2M694.5 526v2M714 526.5h1M748 526.5h1M265.5 527v5M266 527.5h1M305.5 527v3M334 527.5h2M556 527.5h1M652 527.5h2M712 527.5h2M715 527.5h2M747 527.5h1M336 528.5h2M393.5 528v2M555 528.5h1M650 528.5h2M695.5 528v2M711 528.5h1M717 528.5h2M746.5 528v3M250 529.5h2M554 529.5h1M649.5 529v2M710 529.5h1M718 529.5h1M248 530.5h2M306.5 530v2M394 530.5h2M410.5 530v3M553 530.5h1M696.5 530v2M708 530.5h2M719.5 530v2M734 530.5h5M246 531.5h2M396 531.5h2M411 531.5h4M551 531.5h2M648 531.5h1M697 531.5h1M706 531.5h2M732.5 531v10M733 531.5h4M739.5 531v5M740 531.5h1M745.5 531v2M245 532.5h1M266.5 532v2M307 532.5h2M397 532.5h1M414.5 532v6M550.5 532v2M647.5 532v2M698 532.5h2M704 532.5h2M720 532.5h1M730 532.5h2M735 532.5h4M244 533.5h1M309 533.5h1M398.5 533v2M408 533.5h2M646 533.5h1M700 533.5h4M721.5 533v3M722 533.5h1M726 533.5h4M736 533.5h3M740 533.5h2M743 533.5h2M242 534.5h2M267 534.5h1M310 534.5h1M406 534.5h2M549 534.5h1M643 534.5h3M723 534.5h3M736 534.5h2M742.5 534v4M743 534.5h1M241.5 535v2M268 535.5h1M311 535.5h1M317 535.5h1M399.5 535v2M404 535.5h2M547 535.5h2M641 535.5h2M737 535.5h2M740.5 535v6M741.5 535v4M269.5 536v2M312 536.5h1M315 536.5h2M318 536.5h2M402 536.5h2M546 536.5h1M642.5 536v5M720.5 536v3M242.5 537v3M313 537.5h2M320 537.5h2M400 537.5h2M545 537.5h1M743 537.5h1M268.5 538v2M322 538.5h2M415.5 538v7M544.5 538v2M719 538.5h1M729 538.5h3M736.5 538v5M737 538.5h3M287 539.5h2M323 539.5h1M717 539.5h2M728 539.5h1M738 539.5h2M742 539.5h1M243 540.5h1M267.5 540v2M286 540.5h1M289 540.5h2M324 540.5h1M543.5 540v3M715 540.5h2M730 540.5h2M733 540.5h3M737 540.5h1M741 540.5h1M242 541.5h1M266 541.5h1M284 541.5h2M291 541.5h1M325 541.5h1M643 541.5h1M714.5 541v2M729.5 541v4M734 541.5h2M738 541.5h2M241 542.5h1M268 542.5h2M282 542.5h2M292 542.5h1M326.5 542v2M644 542.5h1M731.5 542v3M735 542.5h1M738 542.5h4M240 543.5h1M270 543.5h1M280 543.5h2M293.5 543v2M542.5 543v2M645 543.5h1M713.5 543v2M727 543.5h2M730.5 543v3M737.5 543v2M739 543.5h3M744.5 543v2M238 544.5h2M271 544.5h5M278 544.5h2M325.5 544v2M646 544.5h1M727 544.5h2M732.5 544v7M733.5 544v6M734.5 544v5M740 544.5h4M745 544.5h1M237.5 545v2M276 545.5h2M294.5 545v5M416.5 545v2M541.5 545v3M647 545.5h1M714.5 545v2M736.5 545v2M739 545.5h1M741 545.5h2M324.5 546v2M646.5 546v2M731.5 546v2M735.5 546v3M737.5 546v4M738.5 546v4M236.5 547v2M323 547.5h1M417.5 547v2M715 547.5h2M728.5 547v8M729 547.5h2M318 548.5h5M542.5 548v5M645 548.5h1M717 548.5h2M729 548.5h1M736 548.5h1M739 548.5h1M234 549.5h2M314 549.5h4M418.5 549v3M644.5 549v2M719 549.5h2M233.5 550v2M295.5 550v3M305 550.5h9M721 550.5h1M729 550.5h3M734 550.5h1M736.5 550v3M299 551.5h6M642 551.5h2M722 551.5h1M725 551.5h1M730.5 551v3M731 551.5h1M733 551.5h1M735 551.5h1M232 552.5h1M296 552.5h3M419.5 552v3M641 552.5h1M723 552.5h1M726 552.5h2M729.5 552v16M231 553.5h1M294.5 553v2M543 553.5h2M640 553.5h1M724 553.5h1M727.5 553v2M230 554.5h1M545 554.5h1M638 554.5h2M725.5 554v4M732 554.5h1M229 555.5h1M293.5 555v3M418 555.5h1M546 555.5h2M637 555.5h1M730.5 555v6M731.5 555v2M227 556.5h2M277 556.5h1M417 556.5h1M547 556.5h1M635 556.5h2M726 556.5h3M734 556.5h1M225 557.5h2M265 557.5h2M275 557.5h2M278 557.5h1M415 557.5h2M548.5 557v6M633 557.5h2M723 557.5h2M726 557.5h3M732 557.5h2M224.5 558v4M255 558.5h1M264 558.5h1M267 558.5h8M279 558.5h6M292 558.5h1M413 558.5h2M633 558.5h1M724 558.5h1M726 558.5h3M733.5 558v2M254 559.5h1M256 559.5h2M260 559.5h4M285 559.5h1M291 559.5h1M411 559.5h2M632.5 559v3M725 559.5h1M727.5 559v4M728.5 559v5M731.5 559v4M253 560.5h1M258 560.5h2M286 560.5h1M289 560.5h2M410 560.5h1M732.5 560v3M252 561.5h1M287 561.5h2M409 561.5h1M733.5 561v5M735 561.5h1M223 562.5h1M251 562.5h1M407 562.5h2M631.5 562v6M726.5 562v2M730 562.5h1M734 562.5h1M736.5 562v3M222.5 563v2M250 563.5h1M403 563.5h4M549 563.5h1M739 563.5h1M248 564.5h2M402 564.5h3M410 564.5h3M550.5 564v2M725.5 564v2M735 564.5h1M737 564.5h2M221.5 565v2M247 565.5h1M401 565.5h2M405 565.5h5M413 565.5h4M727.5 565v5M728 565.5h1M734 565.5h1M246 566.5h1M417 566.5h2M551.5 566v3M723 566.5h2M726.5 566v2M730 566.5h2M222.5 567v6M245.5 567v2M419 567.5h2M723 567.5h1M728.5 567v2M730 567.5h2M421 568.5h2M632.5 568v2M724.5 568v2M244.5 569v3M423.5 569v2M552.5 569v5M633.5 570v2M725.5 570v2M424.5 571v2M243 572.5h1M634.5 572v2M723 572.5h2M223 573.5h1M246.5 573v4M421 573.5h1M724 573.5h1M224.5 574v2M420 574.5h1M553 574.5h1M633 574.5h1M725 574.5h2M419.5 575v2M554 575.5h1M632 575.5h1M725 575.5h1M225.5 576v10M555 576.5h1M631 576.5h1M724 576.5h1M245.5 577v2M418.5 577v2M556 577.5h1M630.5 577v2M723 577.5h1M557 578.5h1M724 578.5h2M246 579.5h1M417.5 579v5M558 579.5h1M629.5 579v4M726 579.5h1M247 580.5h1M559.5 580v2M725.5 580v2M248.5 581v2M262 581.5h5M726 581.5h3M261 582.5h1M267 582.5h3M558.5 582v5M727 582.5h2M249.5 583v2M253 583.5h8M270 583.5h1M630.5 583v2M725.5 583v12M726.5 583v5M727 583.5h1M729.5 583v2M250 584.5h3M271 584.5h1M418 584.5h1M724 584.5h1M272.5 585v2M419 585.5h1M629 585.5h1M730.5 585v5M731 585.5h1M223 586.5h2M420.5 586v2M559 586.5h2M628.5 586v2M716.5 586v4M722 586.5h1M724.5 586v2M727 586.5h2M732 586.5h2M222.5 587v2M273 587.5h1M465 587.5h3M561.5 587v3M562 587.5h1M721.5 587v3M728.5 587v4M729.5 587v3M732 587.5h2M786 587.5h2M208 588.5h3M274 588.5h1M419.5 588v2M463 588.5h2M468 588.5h2M627.5 588v2M720.5 588v3M722.5 588v4M723.5 588v4M731.5 588v7M734.5 588v4M785 588.5h1M788 588.5h4M211.5 589v2M220 589.5h2M275 589.5h1M460 589.5h3M470 589.5h1M717 589.5h2M732 589.5h2M783 589.5h2M792 589.5h4M218 590.5h2M274.5 590v2M418 590.5h1M458 590.5h2M471 590.5h1M560.5 590v2M626.5 590v2M717 590.5h1M724 590.5h1M782 590.5h1M796 590.5h2M212 591.5h2M216 591.5h2M417 591.5h1M456 591.5h2M472 591.5h1M716 591.5h1M729 591.5h1M732.5 591v4M733.5 591v4M737.5 591v3M781 591.5h1M797.5 591v2M214 592.5h2M273 592.5h1M418 592.5h2M453 592.5h3M473 592.5h1M559.5 592v2M625 592.5h1M711 592.5h2M717 592.5h5M724.5 592v3M727.5 592v2M779 592.5h2M272 593.5h1M420.5 593v2M451 593.5h2M474 593.5h2M624 593.5h1M710 593.5h1M713 593.5h2M716 593.5h1M720 593.5h4M726.5 593v2M728 593.5h3M735 593.5h2M778 593.5h1M798.5 593v5M271.5 594v2M449 594.5h2M475 594.5h1M557 594.5h2M623 594.5h1M709.5 594v4M715 594.5h1M717 594.5h7M728 594.5h3M734 594.5h1M777 594.5h1M421.5 595v3M448 595.5h1M474.5 595v5M556.5 595v6M622.5 595v5M716 595.5h1M719 595.5h1M729 595.5h1M775 595.5h2M270.5 596v2M447.5 596v2M712.5 596v10M713 596.5h2M720.5 596v3M722 596.5h3M774 596.5h1M713 597.5h1M719.5 597v6M721.5 597v9M773.5 597v2M269.5 598v2M422.5 598v2M437 598.5h3M446.5 598v2M710 598.5h1M714.5 598v3M716.5 598v4M717.5 598v5M718.5 598v6M722.5 598v2M799.5 598v6M423 599.5h1M433 599.5h4M440 599.5h2M475 599.5h1M700 599.5h2M711 599.5h1M715 599.5h1M772.5 599v2M268.5 600v3M420 600.5h2M424 600.5h3M432.5 600v3M442 600.5h2M445 600.5h1M476 600.5h2M621.5 600v4M698.5 600v13M699 600.5h1M701.5 600v13M708 600.5h3M713.5 600v4M720 600.5h1M723.5 600v3M724.5 600v4M419 601.5h1M426 601.5h1M444 601.5h1M478 601.5h1M557.5 601v3M711.5 601v2M715.5 601v5M722.5 601v5M725 601.5h1M771.5 601v2M418 602.5h1M427.5 602v3M479.5 602v8M714 602.5h1M267.5 603v2M417.5 603v2M431.5 603v2M705.5 603v4M706.5 603v5M710.5 603v10M770.5 603v2M428 604.5h3M558.5 604v4M620.5 604v4M707 604.5h3M800.5 604v5M266.5 605v3M415 605.5h2M704 605.5h1M709.5 605v3M720 605.5h1M769.5 605v2M412 606.5h3M707.5 606v2M711.5 606v2M409 607.5h3M708.5 607v4M715.5 607v2M768.5 607v2M265.5 608v2M407 608.5h2M557 608.5h1M619.5 608v2M716.5 608v5M405 609.5h2M536 609.5h2M556.5 609v3M576 609.5h2M717.5 609v3M767.5 609v2M799.5 609v5M264 610.5h1M404 610.5h1M478 610.5h1M534 610.5h2M538 610.5h2M565 610.5h11M578 610.5h1M618 610.5h1M702 610.5h6M711.5 610v4M712 610.5h1M718.5 610v2M263 611.5h1M403 611.5h1M477 611.5h1M533 611.5h1M540 611.5h1M555 611.5h1M557 611.5h8M579 611.5h1M617 611.5h1M700.5 611v4M702 611.5h6M709 611.5h1M715 611.5h1M766.5 611v2M264 612.5h1M401 612.5h2M476.5 612v3M531 612.5h2M541 612.5h2M552 612.5h3M580 612.5h2M616 612.5h1M699.5 612v2M702 612.5h6M712 612.5h2M265 613.5h1M399 613.5h2M529 613.5h2M543 613.5h9M581.5 613v3M617.5 613v2M703 613.5h7M713.5 613v3M715 613.5h1M765.5 613v2M266 614.5h1M352 614.5h1M398.5 614v2M528 614.5h1M696 614.5h1M704.5 614v5M705.5 614v4M706 614.5h2M709.5 614v2M714 614.5h1M798.5 614v5M267 615.5h1M351 615.5h1M353 615.5h2M385 615.5h2M475.5 615v2M526 615.5h2M618.5 615v6M695.5 615v2M706 615.5h1M711 615.5h2M764.5 615v3M268 616.5h1M349 616.5h2M355 616.5h1M384 616.5h1M387 616.5h3M397.5 616v2M474 616.5h1M525 616.5h1M582.5 616v2M694 616.5h1M696.5 616v5M269 617.5h3M346 617.5h3M356 617.5h2M383 617.5h1M390 617.5h2M472 617.5h2M524 617.5h1M697 617.5h3M272.5 618v2M346 618.5h1M358.5 618v2M382.5 618v2M392.5 618v2M396 618.5h1M471.5 618v2M523.5 618v2M581 618.5h1M703.5 618v6M706 618.5h2M763.5 618v2M345.5 619v2M395.5 619v2M580 619.5h1M705 619.5h3M797.5 619v6M273 620.5h1M359.5 620v2M381.5 620v2M393 620.5h1M470.5 620v2M509 620.5h3M522.5 620v2M579 620.5h1M617.5 620v4M619 620.5h5M690 620.5h2M694.5 620v7M695.5 620v7M697 620.5h2M762.5 620v2M274 621.5h1M344.5 621v4M394 621.5h1M508 621.5h1M512 621.5h2M578 621.5h1M624 621.5h7M690 621.5h4M698.5 621v5M702.5 621v5M275 622.5h1M360.5 622v2M362 622.5h4M380 622.5h1M469.5 622v2M506 622.5h2M514 622.5h5M521 622.5h1M577 622.5h1M631 622.5h3M691.5 622v4M692 622.5h2M696.5 622v6M697.5 622v4M700 622.5h2M704 622.5h1M761.5 622v2M276.5 623v2M361 623.5h1M366 623.5h2M379.5 623v2M505 623.5h1M519 623.5h2M576 623.5h1M634 623.5h2M699.5 623v4M701 623.5h1M340 624.5h4M368 624.5h1M468 624.5h1M504 624.5h1M575 624.5h1M618.5 624v2M636 624.5h1M639 624.5h4M692.5 624v3M693.5 624v4M700.5 624v2M760.5 624v3M277 625.5h1M338 625.5h2M369 625.5h1M377 625.5h2M467.5 625v4M475 625.5h5M503.5 625v3M574 625.5h1M637 625.5h2M643 625.5h3M704.5 625v3M796.5 625v8M275 626.5h2M334 626.5h4M370 626.5h1M372 626.5h5M472 626.5h3M480 626.5h2M573.5 626v2M603 626.5h5M617.5 626v3M646 626.5h2M680.5 626v4M681 626.5h2M687.5 626v4M688.5 626v2M690.5 626v2M703 626.5h1M274 627.5h1M333 627.5h1M371 627.5h1M471.5 627v4M482 627.5h1M599 627.5h4M608 627.5h2M648.5 627v5M682.5 627v3M683.5 627v3M686.5 627v4M689 627.5h1M697 627.5h2M759.5 627v2M273 628.5h1M331 628.5h2M483.5 628v5M502 628.5h1M572 628.5h1M594 628.5h5M610 628.5h2M675 628.5h5M681 628.5h1M684.5 628v3M685.5 628v3M272.5 629v2M329 629.5h2M468.5 629v2M501.5 629v2M571 629.5h1M592 629.5h2M612 629.5h1M615 629.5h2M674 629.5h1M688 629.5h1M758.5 629v2M327 630.5h2M470 630.5h1M570 630.5h1M590 630.5h2M613 630.5h2M673 630.5h1M690 630.5h2M693 630.5h2M273.5 631v3M325 631.5h2M469 631.5h1M500.5 631v4M568 631.5h2M588 631.5h2M671 631.5h2M689 631.5h4M757.5 631v2M289 632.5h4M324 632.5h1M567 632.5h2M586 632.5h2M649 632.5h1M670.5 632v2M288 633.5h1M293 633.5h3M323 633.5h1M484.5 633v2M569 633.5h2M584 633.5h2M650 633.5h1M756.5 633v2M795.5 633v8M272 634.5h1M286 634.5h2M296 634.5h2M319 634.5h4M494 634.5h3M571 634.5h2M582 634.5h2M651.5 634v2M669.5 634v2M271 635.5h1M283 635.5h3M298 635.5h2M319 635.5h1M485 635.5h3M492 635.5h2M497 635.5h3M573 635.5h2M578 635.5h4M755.5 635v2M269 636.5h2M281 636.5h2M300 636.5h2M318.5 636v2M488 636.5h4M500.5 636v2M575 636.5h3M652.5 636v2M668 636.5h1M268.5 637v2M279 637.5h2M302 637.5h2M669.5 637v2M754.5 637v2M277 638.5h2M304 638.5h2M317 638.5h1M501.5 638v9M653.5 638v3M267.5 639v3M276 639.5h1M306 639.5h4M316.5 639v2M670 639.5h1M753.5 639v5M268 640.5h1M274 640.5h2M310 640.5h2M671 640.5h1M269 641.5h5M312 641.5h4M654.5 641v2M672.5 641v3M794.5 641v8M268.5 642v2M655.5 643v2M269.5 644v2M671.5 644v2M754.5 644v6M270 645.5h1M656.5 645v2M668 645.5h3M271 646.5h2M668 646.5h1M273.5 647v2M278 647.5h5M500.5 647v2M657.5 647v2M669.5 647v2M274 648.5h4M283 648.5h3M668 648.5h1M286 649.5h2M499.5 649v2M658.5 649v4M666 649.5h2M793.5 649v6M288.5 650v4M666 650.5h1M755.5 650v2M497 651.5h2M667.5 651v2M496.5 652v5M659 652.5h1M664.5 652v3M756.5 652v3M656.5 653v9M660 653.5h2M665 653.5h2M289.5 654v2M657 654.5h1M663 654.5h1M661 655.5h2M757.5 655v2M792.5 655v2M290 656.5h2M657.5 656v2M660 656.5h1M292.5 657v2M298 657.5h3M313 657.5h1M495.5 657v2M654 657.5h2M658 657.5h2M758.5 657v2M791.5 657v2M293 658.5h5M301 658.5h4M312 658.5h1M314 658.5h1M653 658.5h1M655.5 658v3M661 658.5h1M305 659.5h7M315 659.5h1M494.5 659v2M654.5 659v2M660 659.5h1M759.5 659v2M790.5 659v2M316 660.5h2M652.5 660v3M653.5 660v3M657.5 660v2M659 660.5h1M317 661.5h1M493 661.5h1M658 661.5h1M760.5 661v2M789.5 661v2M318.5 662v3M491 662.5h2M651.5 662v2M490.5 663v2M650 663.5h1M761.5 663v2M788.5 663v2M649.5 664v2M319.5 665v3M489 665.5h1M762.5 665v2M787.5 665v2M488 666.5h1M648.5 666v2M487.5 667v2M763.5 667v2M786.5 667v4M318.5 668v5M647 668.5h1M486.5 669v3M646.5 669v2M764.5 669v2M645 671.5h1M765 671.5h2M785.5 671v6M485.5 672v3M644 672.5h1M767 672.5h2M317.5 673v2M643 673.5h1M769 673.5h3M641 674.5h2M772 674.5h2M307 675.5h3M316 675.5h1M484.5 675v2M639 675.5h2M774 675.5h2M305 676.5h2M310 676.5h2M314.5 676v3M315 676.5h1M632 676.5h7M776.5 676v2M304.5 677v2M312 677.5h2M483.5 677v3M632.5 677v3M784.5 677v6M292 678.5h1M777 678.5h1M291 679.5h1M293 679.5h1M303 679.5h1M313.5 679v2M624 679.5h8M778 679.5h1M290 680.5h1M294 680.5h1M301 680.5h2M484.5 680v6M624 680.5h1M779.5 680v2M289 681.5h1M295 681.5h2M299 681.5h2M312.5 681v6M623 681.5h1M287 682.5h2M297 682.5h2M617 682.5h3M622 682.5h1M780 682.5h1M283 683.5h4M604 683.5h1M616 683.5h1M620 683.5h2M781 683.5h1M783.5 683v4M282 684.5h1M603.5 684v2M605 684.5h1M607 684.5h2M615 684.5h1M782.5 684v2M280 685.5h2M598 685.5h3M606 685.5h1M609 685.5h2M613 685.5h2M277 686.5h3M485.5 686v2M590 686.5h1M597.5 686v2M601 686.5h2M611 686.5h2M277.5 687v2M313 687.5h1M589 687.5h1M591 687.5h2M314 688.5h1M484.5 688v2M588.5 688v2M593 688.5h1M596 688.5h1M276.5 689v3M315.5 689v2M594 689.5h2M316 690.5h3M483.5 690v2M557 690.5h2M583.5 690v4M586.5 690v4M587 690.5h1M275 691.5h1M319 691.5h2M555 691.5h2M559 691.5h1M584.5 691v3M585.5 691v2M588 691.5h1M270 692.5h5M321 692.5h8M482.5 692v2M554.5 692v3M560 692.5h1M578 692.5h5M587 692.5h1M269 693.5h1M329 693.5h2M561 693.5h1M578.5 693v2M580 693.5h3M230 694.5h2M258 694.5h1M268 694.5h1M331 694.5h3M480 694.5h2M562 694.5h1M577 694.5h1M228 695.5h2M232 695.5h1M239 695.5h2M257 695.5h1M259.5 695v2M266 695.5h2M334 695.5h2M478 695.5h2M555.5 695v3M563 695.5h2M579 695.5h2M227 696.5h1M233 696.5h2M238 696.5h1M241 696.5h1M255 696.5h2M264 696.5h2M336 696.5h2M477 696.5h1M565 696.5h1M581 696.5h1M208 697.5h2M226 697.5h1M235 697.5h1M237 697.5h1M242 697.5h1M253 697.5h2M260 697.5h1M262 697.5h2M338.5 697v2M473 697.5h4M566.5 697v4M582 697.5h1M210 698.5h2M225.5 698v2M236 698.5h1M243 698.5h1M252 698.5h1M261 698.5h1M471 698.5h2M554 698.5h1M583 698.5h1M212 699.5h1M244 699.5h1M251.5 699v2M337.5 699v2M469 699.5h2M545 699.5h1M555 699.5h1M584 699.5h1M213 700.5h1M224 700.5h1M245 700.5h1M467 700.5h2M546.5 700v3M556.5 700v4M585.5 700v5M214 701.5h3M223 701.5h1M246 701.5h1M250 701.5h1M336.5 701v2M465.5 701v4M466 701.5h1M565 701.5h1M217 702.5h2M221 702.5h2M247 702.5h1M249 702.5h1M564.5 702v5M219 703.5h2M248 703.5h1M335 703.5h1M542.5 703v2M547.5 703v2M334.5 704v2M544 704.5h3M548 704.5h1M555.5 704v2M466.5 705v2M541.5 705v2M543 705.5h1M583 705.5h2M333.5 706v2M544.5 706v5M554 706.5h1M565 706.5h1M571 706.5h12M465.5 707v2M542 707.5h1M552.5 707v3M553.5 707v2M566 707.5h5M331 708.5h2M520 708.5h3M541.5 708v3M543.5 708v6M551 708.5h1M554 708.5h1M576 708.5h2M332 709.5h1M464.5 709v2M519.5 709v2M542.5 709v4M550 709.5h1M571 709.5h2M333.5 710v2M518 710.5h1M520 710.5h2M525 710.5h1M537 710.5h1M549 710.5h1M463.5 711v2M522.5 711v2M524.5 711v5M526 711.5h3M530 711.5h7M548 711.5h1M551.5 711v3M557 711.5h1M565 711.5h2M334.5 712v2M460 712.5h3M523.5 712v4M525 712.5h2M547 712.5h1M556 712.5h1M559 712.5h2M455 713.5h5M525 713.5h2M528 713.5h1M540 713.5h2M546.5 713v2M552 713.5h4M335.5 714v4M454.5 714v2M522 714.5h1M527 714.5h1M538 714.5h2M544 714.5h1M507.5 715v2M517 715.5h2M526 715.5h1M528 715.5h5M537 715.5h1M545 715.5h1M453 716.5h1M506.5 716v8M508 716.5h2M515 716.5h2M519 716.5h1M527 716.5h3M531 716.5h1M535 716.5h2M452 717.5h1M515 717.5h1M520.5 717v3M523.5 717v3M525 717.5h4M532 717.5h1M534.5 717v2M336.5 718v2M453.5 718v5M514.5 718v2M524 718.5h4M511 719.5h3M533.5 719v3M337 720.5h2M505 720.5h1M507 720.5h4M521.5 720v2M339 721.5h3M507 721.5h3M342 722.5h4M501 722.5h1M507 722.5h3M522 722.5h1M532 722.5h1M346 723.5h2M391.5 723v2M394 723.5h6M451 723.5h2M498.5 723v3M500.5 723v2M502 723.5h4M507 723.5h1M523 723.5h1M530 723.5h2M348.5 724v2M389 724.5h2M394.5 724v2M396 724.5h2M415.5 724v3M449 724.5h2M494.5 724v5M495 724.5h3M502.5 724v3M508 724.5h1M524 724.5h6M388.5 725v3M390.5 725v2M393.5 725v3M395 725.5h3M414.5 725v5M447 725.5h2M497.5 725v2M499.5 725v2M524 725.5h1M349.5 726v2M385.5 726v2M389.5 726v3M391 726.5h1M397.5 726v6M398 726.5h2M403 726.5h3M407.5 726v2M413.5 726v3M424.5 726v4M446 726.5h1M503.5 726v2M384.5 727v3M386.5 727v3M387.5 727v4M392.5 727v6M394.5 727v6M398 727.5h1M400 727.5h2M404 727.5h2M408 727.5h1M412 727.5h1M425.5 727v3M428.5 727v4M445 727.5h1M504.5 727v4M505 727.5h1M507 727.5h1M350 728.5h3M390 728.5h1M402 728.5h5M409 728.5h1M422.5 728v7M423 728.5h1M429 728.5h1M443 728.5h2M490 728.5h4M506 728.5h1M353 729.5h2M361 729.5h5M385.5 729v4M388.5 729v2M391 729.5h1M395 729.5h1M410.5 729v2M415 729.5h2M430 729.5h1M442 729.5h1M489 729.5h1M355 730.5h6M366 730.5h1M393 730.5h1M402 730.5h2M409.5 730v2M411.5 730v4M419 730.5h3M426 730.5h2M431 730.5h2M441 730.5h1M488 730.5h1M367 731.5h4M384 731.5h1M386 731.5h1M389 731.5h3M398 731.5h1M401 731.5h1M420 731.5h2M423 731.5h3M433 731.5h3M440.5 731v2M484 731.5h4M503 731.5h1M371 732.5h2M383 732.5h1M389 732.5h3M393 732.5h1M399 732.5h2M405 732.5h3M410 732.5h1M421.5 732v4M424.5 732v2M436 732.5h2M475 732.5h2M482 732.5h2M502.5 732v2M373 733.5h2M381 733.5h2M390 733.5h1M405 733.5h2M412 733.5h3M423.5 733v3M438.5 733v2M452 733.5h1M469 733.5h2M473 733.5h2M477 733.5h5M375 734.5h2M379 734.5h3M405 734.5h3M415 734.5h2M451.5 734v3M453.5 734v8M469 734.5h1M471 734.5h2M377 735.5h3M417 735.5h1M419 735.5h2M439 735.5h3M452.5 735v5M468.5 735v2M376 736.5h2M418 736.5h3M422.5 736v3M424 736.5h1M442.5 736v5M467 736.5h1M374 737.5h2M423 737.5h1M466 737.5h1M372 738.5h2M450.5 738v7M451.5 738v6M454.5 738v2M465 738.5h1M371 739.5h1M455.5 739v2M463 739.5h2M369 740.5h2M443 740.5h3M459 740.5h4M367 741.5h2M444 741.5h6M456 741.5h1M458 741.5h1M365 742.5h2M443 742.5h4M448 742.5h1M452 742.5h1M457 742.5h1M363 743.5h2M444 743.5h4M449 743.5h1M455 743.5h1M362 744.5h1M447.5 744v2M453 744.5h2M360 745.5h2M449.5 745v2M452 745.5h2M358 746.5h2M448 746.5h1M356 747.5h2M354 748.5h2" fill="none" stroke="#000" stroke-width="1" shape-rendering="crispEdges"/>
<path d="M461 51.5h1M587 51.5h1M592 51.5h2M809 51.5h1M580 52.5h1M585 52.5h2M253.5 53v2M573 53.5h1M578 53.5h2M392.5 54v2M571 54.5h2M741.5 54v2M877 54.5h1M322.5 55v2M531.5 55v2M557 55.5h3M564 55.5h3M878 55.5h1M550 56.5h3M672.5 56v2M543 57.5h3M602.5 57v2M536 58.5h3M462.5 59v2M522 59.5h3M529 59.5h3M810 59.5h1M515 60.5h3M811 60.5h1M501 61.5h3M508 61.5h3M252.5 62v2M494 62.5h3M392.5 63v2M480 63.5h3M487 63.5h3M742 63.5h1M880.5 63v2M208 64.5h2M214 64.5h3M322.5 64v2M466 64.5h3M473 64.5h3M532 64.5h1M743 64.5h1M221 65.5h3M228 65.5h3M452 65.5h3M459 65.5h3M533 65.5h1M673.5 65v2M235 66.5h3M242 66.5h3M438 66.5h3M445 66.5h3M603.5 66v2M249 67.5h3M256 67.5h2M417 67.5h3M424 67.5h3M431 67.5h3M258 68.5h1M263 68.5h3M270 68.5h3M277 68.5h3M284 68.5h2M389 68.5h3M396 68.5h3M403 68.5h3M410 68.5h3M462.5 68v2M813.5 68v2M286 69.5h1M291 69.5h3M298 69.5h3M305 69.5h3M312 69.5h3M319 69.5h3M326 69.5h3M333 69.5h3M340 69.5h3M347 69.5h3M354 69.5h3M361 69.5h3M368 69.5h3M375 69.5h3M382 69.5h3M251.5 71v2M392.5 72v2M744.5 72v2M883.5 72v2M321.5 73v2M534.5 73v2M674.5 74v2M604.5 75v2M462.5 77v2M815 77.5h1M816 78.5h1M251.5 80v2M392.5 81v2M746.5 81v2M885 81.5h3M321.5 82v2M534.5 82v2M880 82.5h1M885 82.5h1M676.5 83v2M878 83.5h2M605.5 84v2M872 84.5h2M871 85.5h1M463.5 86v2M818.5 86v2M866 86.5h1M864 87.5h2M857 88.5h3M251.5 89v2M392.5 90v2M748 90.5h1M850 90.5h3M888.5 90v2M321.5 91v2M535.5 91v2M749 91.5h1M677 92.5h1M843 92.5h3M606 93.5h1M678 93.5h1M837 93.5h2M607 94.5h1M836 94.5h1M464.5 95v2M819 95.5h1M831 95.5h1M820 96.5h1M829 96.5h2M822 97.5h3M250.5 98v2M392.5 99v2M750.5 99v2M815 99.5h3M890.5 99v2M321.5 100v2M536.5 100v2M809 100.5h2M679.5 101v2M808 101.5h1M608.5 102v2M801 102.5h3M796 103.5h1M464.5 104v2M794 104.5h2M822.5 104v2M788 105.5h2M787 106.5h1M249.5 107v2M780 107.5h3M393.5 108v2M752.5 108v2M775 108.5h1M321.5 109v2M537.5 109v2M773 109.5h2M681.5 110v2M766 110.5h3M609.5 111v2M759 112.5h3M465.5 113v2M752 113.5h3M824.5 113v2M745 114.5h3M249.5 116v2M738 116.5h3M393.5 117v2M732 117.5h2M753 117.5h1M321.5 118v2M538.5 118v2M731 118.5h1M754 118.5h1M682.5 119v2M724 119.5h3M610.5 120v2M717 120.5h3M710 121.5h3M465 122.5h1M704 122.5h2M826.5 122v2M466 123.5h1M703 123.5h1M696 124.5h3M248.5 125v2M689 125.5h3M393.5 126v2M682 126.5h3M756.5 126v2M320.5 127v2M539.5 127v2M677 127.5h1M675 128.5h2M684.5 128v2M611.5 129v2M668 129.5h3M661 130.5h3M466.5 131v2M654 131.5h3M828 131.5h1M647 132.5h3M829 132.5h1M640 133.5h3M248.5 134v2M633 134.5h3M393.5 135v2M626 135.5h3M758.5 135v2M320.5 136v2M539.5 136v2M619 136.5h3M612 137.5h3M686.5 137v2M605 138.5h3M612.5 138v2M598 139.5h3M466.5 140v2M591 140.5h3M831.5 140v2M584 141.5h3M577 142.5h3M247.5 143v2M570 143.5h3M393.5 144v2M563 144.5h3M759 144.5h1M320.5 145v2M540.5 145v2M549 145.5h3M556 145.5h3M760 145.5h1M542 146.5h3M687 146.5h1M535 147.5h3M613 147.5h1M688 147.5h1M521 148.5h3M528 148.5h3M614 148.5h1M467.5 149v2M514 149.5h3M833 149.5h1M500 150.5h3M507 150.5h3M834 150.5h1M493 151.5h3M208 152.5h1M247.5 152v2M479 152.5h3M486 152.5h3M213 153.5h3M394.5 153v2M465 153.5h3M472 153.5h3M761 153.5h1M220 154.5h3M227 154.5h3M320.5 154v2M451 154.5h3M458 154.5h3M541.5 154v2M762 154.5h1M234 155.5h3M241 155.5h3M248 155.5h3M430 155.5h3M437 155.5h3M444 155.5h3M689.5 155v2M255 156.5h3M262 156.5h3M269 156.5h3M409 156.5h3M416 156.5h3M423 156.5h3M615.5 156v2M276 157.5h3M283 157.5h3M290 157.5h3M297 157.5h3M304 157.5h3M369 157.5h1M374 157.5h3M381 157.5h3M388 157.5h3M395 157.5h3M402 157.5h3M311 158.5h3M318 158.5h3M325 158.5h3M332 158.5h3M339 158.5h3M346 158.5h3M353 158.5h3M360 158.5h3M367 158.5h2M468.5 158v2M836.5 158v2M246.5 161v2M394.5 162v2M764.5 162v2M320.5 163v2M542.5 163v2M690.5 164v2M617.5 165v2M468.5 167v2M838.5 167v2M246.5 170v2M394.5 171v2M765 171.5h1M320.5 172v2M543.5 172v2M766 172.5h1M691.5 173v2M618.5 174v2M887 174.5h2M886 175.5h1M468 176.5h1M840.5 176v2M879 176.5h3M469 177.5h1M874 177.5h1M872 178.5h2M245.5 179v2M867 179.5h1M394.5 180v2M767.5 180v2M865 180.5h2M320.5 181v2M544.5 181v2M859 181.5h2M693.5 182v2M858 182.5h1M619.5 183v2M851 183.5h3M469.5 185v2M843 185.5h4M838 186.5h2M843 186.5h1M837 187.5h1M245.5 188v2M830 188.5h3M394.5 189v2M769 189.5h1M825 189.5h1M320.5 190v2M544.5 190v2M770 190.5h1M823 190.5h2M695.5 191v2M816 191.5h3M620.5 192v2M811 192.5h1M809 193.5h2M470.5 194v2M802 194.5h3M845.5 194v2M797 195.5h1M795 196.5h2M244.5 197v2M788 197.5h3M395.5 198v2M772.5 198v2M783 198.5h1M319.5 199v2M545 199.5h1M781 199.5h2M546 200.5h1M696 200.5h1M774 200.5h3M621 201.5h1M697 201.5h1M769 201.5h1M622 202.5h1M767 202.5h2M470.5 203v2M760 203.5h3M847 203.5h1M755 204.5h1M848 204.5h1M748 205.5h1M753 205.5h2M244.5 206v2M746 206.5h2M395.5 207v2M739 207.5h3M773.5 207v2M319.5 208v2M547.5 208v2M733 208.5h2M698.5 209v2M726 209.5h2M732 209.5h1M623.5 210v2M725 210.5h1M718 211.5h3M471.5 212v2M712 212.5h2M849.5 212v2M705 213.5h2M711 213.5h1M698 214.5h2M704 214.5h1M243.5 215v2M692 215.5h1M697 215.5h1M395.5 216v2M690 216.5h2M775.5 216v2M319.5 217v2M548.5 217v2M683 217.5h3M676 218.5h3M700.5 218v2M624.5 219v2M669 219.5h3M662 220.5h3M472.5 221v2M655 221.5h3M852.5 221v2M648 222.5h3M641 223.5h3M243.5 224v2M396.5 225v2M634 225.5h3M777 225.5h1M319.5 226v2M549.5 226v2M627 226.5h3M778 226.5h1M620 227.5h3M701 227.5h1M613 228.5h3M625 228.5h1M702 228.5h1M599 229.5h3M606 229.5h3M626 229.5h1M472 230.5h1M592 230.5h3M854.5 230v2M473 231.5h1M580 231.5h1M585 231.5h3M573 232.5h1M578 232.5h2M242.5 233v2M565 233.5h2M571 233.5h2M396.5 234v2M558 234.5h2M564 234.5h1M779.5 234v2M319.5 235v2M543 235.5h3M550 235.5h3M557 235.5h1M536 236.5h3M550 236.5h1M703.5 236v2M529 237.5h3M627.5 237v2M515 238.5h3M522 238.5h3M473.5 239v2M508 239.5h3M857.5 239v2M494 240.5h3M501 240.5h3M208 241.5h2M480 241.5h3M487 241.5h3M214 242.5h3M221 242.5h3M242.5 242v3M460 242.5h2M466 242.5h3M473 242.5h3M228 243.5h3M235 243.5h3M396.5 243v3M445 243.5h3M452 243.5h3M459 243.5h1M781 243.5h1M243 244.5h2M249 244.5h3M319.5 244v3M424 244.5h3M431 244.5h3M438 244.5h3M550.5 244v2M782 244.5h1M256 245.5h3M263 245.5h3M270 245.5h3M277 245.5h3M284 245.5h3M397 245.5h2M403 245.5h3M410 245.5h3M417 245.5h3M705.5 245v2M291 246.5h3M298 246.5h3M305 246.5h3M312 246.5h3M320 246.5h2M326 246.5h3M333 246.5h3M340 246.5h3M347 246.5h3M354 246.5h3M361 246.5h3M368 246.5h3M375 246.5h3M382 246.5h3M389 246.5h3M628.5 246v2M473.5 248v2M859 248.5h1M860 249.5h1M242.5 251v2M396.5 252v2M784.5 252v2M319.5 253v2M551.5 253v2M706 254.5h1M629 255.5h1M707 255.5h1M630 256.5h1M474.5 257v2M862.5 257v2M241.5 260v2M397.5 261v2M785 261.5h1M319.5 262v2M552.5 262v2M786 262.5h1M708.5 263v2M631.5 264v2M475.5 266v2M863 266.5h1M864 267.5h1M887 267.5h3M240.5 269v2M880 269.5h3M397.5 270v2M788.5 270v2M875 270.5h1M319.5 271v2M554.5 271v2M873 271.5h2M710.5 272v2M866 272.5h3M632.5 273v2M859 274.5h3M476.5 275v2M854 275.5h1M866.5 275v2M852 276.5h2M845 277.5h3M240.5 278v2M839 278.5h2M397.5 279v2M790.5 279v2M838 279.5h1M318.5 280v2M555.5 280v2M831 280.5h3M711 281.5h1M825 281.5h2M633 282.5h1M712 282.5h1M824 282.5h1M634 283.5h1M817 283.5h3M476.5 284v2M812 284.5h1M868.5 284v2M810 285.5h2M803 286.5h3M239.5 287v2M798 287.5h1M397.5 288v2M791.5 288v2M796 288.5h2M318.5 289v2M555 289.5h1M789 289.5h2M556 290.5h1M713.5 290v2M782 290.5h3M635.5 291v2M775 291.5h3M476.5 293v2M768 293.5h3M871.5 293v2M761 294.5h3M239.5 296v2M754 296.5h3M397.5 297v2M747 297.5h3M793 297.5h1M318.5 298v2M556.5 298v2M740 298.5h3M794 298.5h1M715.5 299v2M734 299.5h2M636.5 300v2M733 300.5h1M721 301.5h1M726 301.5h3M477.5 302v2M719 302.5h2M873 302.5h1M712 303.5h3M874 303.5h1M706 304.5h2M239.5 305v2M699 305.5h2M705 305.5h1M398.5 306v2M691 306.5h3M698 306.5h1M796.5 306v2M318.5 307v2M557.5 307v2M684 307.5h3M677 308.5h3M716 308.5h1M637 309.5h1M670 309.5h3M717 309.5h1M638 310.5h1M478.5 311v2M663 311.5h3M876.5 311v2M656 312.5h3M649 313.5h3M238.5 314v2M642 314.5h3M398.5 315v2M630 315.5h1M635 315.5h3M798.5 315v2M318.5 316v2M558.5 316v2M622 316.5h2M628 316.5h2M614 317.5h3M621 317.5h1M718.5 317v2M607 318.5h3M639.5 318v2M600 319.5h3M479.5 320v2M593 320.5h3M878 320.5h1M586 321.5h3M879 321.5h1M572 322.5h3M579 322.5h3M238.5 323v2M560 323.5h1M565 323.5h3M398.5 324v2M552 324.5h2M558 324.5h2M800.5 324v2M318.5 325v2M537 325.5h3M544 325.5h3M551 325.5h1M560.5 325v2M530 326.5h3M720.5 326v2M523 327.5h3M640.5 327v2M509 328.5h3M516 328.5h3M479.5 329v2M490 329.5h1M495 329.5h3M502 329.5h3M881.5 329v2M208 330.5h3M474 330.5h3M481 330.5h3M488 330.5h2M215 331.5h3M222 331.5h3M460 331.5h3M467 331.5h3M229 332.5h3M236 332.5h3M243 332.5h1M446 332.5h3M453 332.5h3M237 333.5h1M244 333.5h2M250 333.5h3M257 333.5h3M264 333.5h3M399.5 333v2M419 333.5h2M425 333.5h3M432 333.5h3M439 333.5h3M802.5 333v2M271 334.5h3M278 334.5h3M285 334.5h3M292 334.5h3M299 334.5h1M318.5 334v2M390 334.5h3M397 334.5h2M404 334.5h3M411 334.5h3M418 334.5h1M561.5 334v2M300 335.5h2M306 335.5h3M313 335.5h3M320 335.5h3M327 335.5h3M334 335.5h3M341 335.5h3M348 335.5h3M355 335.5h3M362 335.5h3M369 335.5h3M376 335.5h3M383 335.5h3M721 335.5h1M641 336.5h1M722 336.5h1M642 337.5h1M479.5 338v2M883.5 338v2M237.5 341v2M399.5 342v2M804.5 342v2M318.5 343v2M561 343.5h1M562 344.5h1M724.5 344v2M643.5 345v2M480.5 347v2M885.5 347v2M237.5 350v2M399.5 351v2M806.5 351v2M318.5 352v2M562.5 352v2M726.5 353v2M644.5 354v2M481.5 356v2M888.5 356v2M236.5 359v2M889 359.5h2M400.5 360v2M808.5 360v2M888 360.5h1M318.5 361v2M563.5 361v2M882 361.5h2M727 362.5h1M881 362.5h1M645 363.5h1M728 363.5h1M874 363.5h3M646 364.5h1M869 364.5h1M482.5 365v2M867 365.5h2M890.5 365v2M860 366.5h3M854 367.5h2M235.5 368v2M848 368.5h1M853 368.5h1M400.5 369v2M810 369.5h1M846 369.5h2M318.5 370v2M564.5 370v2M811 370.5h1M841 370.5h1M729.5 371v2M839 371.5h2M647.5 372v2M832 372.5h3M825 373.5h3M483.5 374v2M818 375.5h3M811 376.5h3M235.5 377v2M806 377.5h1M400.5 378v2M804 378.5h2M812.5 378v2M318.5 379v2M566.5 379v2M797 379.5h3M731.5 380v2M791 380.5h2M648.5 381v2M785 381.5h1M790 381.5h1M783 382.5h2M483.5 383v2M776 383.5h3M769 384.5h3M762 385.5h3M234.5 386v2M756 386.5h2M401.5 387v2M755 387.5h1M815.5 387v2M317.5 388v2M567.5 388v2M748 388.5h3M732 389.5h1M741 389.5h3M649 390.5h1M733 390.5h4M650 391.5h1M728 391.5h2M483.5 392v2M722 392.5h1M727 392.5h1M714 393.5h2M720 393.5h2M706 394.5h3M713 394.5h1M234.5 395v2M701 395.5h1M401.5 396v2M699 396.5h2M816 396.5h1M317.5 397v2M567 397.5h1M692 397.5h3M817 397.5h1M568 398.5h1M685 398.5h3M734.5 398v2M651.5 399v2M678 399.5h3M671 400.5h3M484.5 401v2M659 401.5h1M664 401.5h3M651 402.5h2M657 402.5h2M643 403.5h3M650 403.5h1M234.5 404v2M636 404.5h3M401.5 405v2M629 405.5h3M818.5 405v2M317.5 406v2M568.5 406v2M622 406.5h3M610 407.5h1M615 407.5h3M736.5 407v2M602 408.5h2M608 408.5h2M652.5 408v2M594 409.5h3M601 409.5h1M485.5 410v2M587 410.5h3M580 411.5h3M573 412.5h3M233.5 413v2M554 413.5h1M559 413.5h3M566 413.5h3M401.5 414v2M546 414.5h2M552 414.5h2M820.5 414v2M317.5 415v2M538 415.5h3M545 415.5h1M569.5 415v2M524 416.5h3M531 416.5h3M737 416.5h1M505 417.5h1M510 417.5h3M517 417.5h3M653 417.5h1M738 417.5h1M496 418.5h3M503 418.5h2M654 418.5h1M482 419.5h3M486.5 419v2M489 419.5h3M209 420.5h3M216 420.5h3M223 420.5h1M468 420.5h3M475 420.5h3M224 421.5h2M230 421.5h3M237 421.5h3M440 421.5h3M447 421.5h3M454 421.5h3M461 421.5h3M233.5 422v2M244 422.5h3M251 422.5h3M258 422.5h3M414 422.5h1M419 422.5h3M426 422.5h3M433 422.5h3M265 423.5h3M272 423.5h3M279 423.5h3M286 423.5h3M293 423.5h3M300 423.5h3M377 423.5h3M384 423.5h3M391 423.5h3M398 423.5h3M402.5 423v2M405 423.5h3M412 423.5h2M822 423.5h1M307 424.5h3M314 424.5h4M321 424.5h3M328 424.5h3M335 424.5h3M342 424.5h3M349 424.5h3M356 424.5h3M363 424.5h3M370 424.5h3M570.5 424v2M823 424.5h1M317 425.5h1M739.5 425v2M655.5 426v2M487.5 428v2M232.5 431v2M402.5 432v2M824 432.5h1M317.5 433v2M572.5 433v2M825 433.5h1M741.5 434v2M657.5 435v2M487.5 437v2M232.5 440v2M402.5 441v2M827.5 441v2M317.5 442v2M573.5 442v2M742 443.5h1M658.5 444v2M743 444.5h1M487.5 446v2M232 449.5h1M231 450.5h1M402.5 450v2M828 450.5h1M317.5 451v2M573 451.5h1M829 451.5h1M574 452.5h1M744.5 452v2M890 452.5h2M659.5 453v2M884 453.5h2M878 454.5h1M883 454.5h1M488.5 455v2M876 455.5h2M870 456.5h2M869 457.5h1M231.5 458v2M862 458.5h3M403.5 459v2M831.5 459v2M855 459.5h3M317.5 460v2M574.5 460v2M850 460.5h1M746.5 461v2M848 461.5h2M661.5 462v2M841 462.5h3M834 463.5h3M489.5 464v2M828 464.5h2M822 465.5h1M827 465.5h1M820 466.5h2M230.5 467v2M813 467.5h3M403.5 468v2M806 468.5h3M833.5 468v2M317.5 469v2M575.5 469v2M748.5 470v2M799 470.5h3M662.5 471v2M792 471.5h3M786 472.5h2M490.5 473v2M780 473.5h1M785 473.5h1M778 474.5h2M771 475.5h3M230.5 476v2M764 476.5h3M403.5 477v2M757 477.5h3M835.5 477v2M317.5 478v2M577.5 478v2M750 478.5h3M745 479.5h1M749.5 479v2M663.5 480v2M743 480.5h2M731 481.5h1M736 481.5h3M490.5 482v2M724 482.5h1M729 482.5h2M722 483.5h2M715 484.5h3M229.5 485v2M708 485.5h3M404.5 486v2M701 486.5h3M837.5 486v2M316.5 487v2M578.5 487v2M689 487.5h1M694 487.5h3M681 488.5h2M687 488.5h2M751.5 488v2M665.5 489v2M675 489.5h1M680 489.5h1M673 490.5h2M490 491.5h1M666 491.5h3M491 492.5h1M659 492.5h3M652 493.5h3M229.5 494v2M639 494.5h2M645 494.5h3M404.5 495v2M631 495.5h3M638 495.5h1M839.5 495v2M316.5 496v2M579.5 496v2M624 496.5h3M617 497.5h3M752 497.5h1M610 498.5h3M666 498.5h1M753 498.5h1M589 499.5h3M596 499.5h3M603 499.5h3M667 499.5h1M491.5 500v2M582 500.5h3M575 501.5h3M563 502.5h1M568 502.5h3M229 503.5h1M547 503.5h3M554 503.5h3M561 503.5h2M228 504.5h1M404.5 504v2M540 504.5h3M841 504.5h1M316.5 505v2M533 505.5h3M579 505.5h1M842 505.5h1M512 506.5h3M519 506.5h3M526 506.5h3M580 506.5h1M755.5 506v2M498 507.5h3M505 507.5h3M668.5 507v2M478 508.5h2M484 508.5h3M491 508.5h3M211 509.5h3M218 509.5h3M225 509.5h3M463 509.5h3M470 509.5h3M477 509.5h1M492.5 509v2M232 510.5h3M239 510.5h3M443 510.5h2M449 510.5h3M456 510.5h3M246 511.5h3M253 511.5h3M260 511.5h3M267 511.5h3M421 511.5h3M428 511.5h3M435 511.5h3M442 511.5h1M228.5 512v2M274 512.5h3M281 512.5h3M288 512.5h3M295 512.5h3M302 512.5h3M309 512.5h3M366 512.5h2M372 512.5h3M379 512.5h3M386 512.5h3M393 512.5h3M400 512.5h3M407 512.5h3M414 512.5h3M316 513.5h3M323 513.5h3M330 513.5h3M337 513.5h3M344 513.5h3M351 513.5h3M358 513.5h3M365 513.5h1M404.5 513v2M843.5 513v2M316.5 514v2M580.5 514v2M757.5 515v2M669.5 516v2M493.5 518v2M228.5 521v2M405.5 522v2M845 522.5h1M316.5 523v2M581.5 523v2M846 523.5h1M759.5 524v2M670.5 525v2M494.5 527v2M227.5 530v2M405.5 531v2M848.5 531v2M316.5 532v2M583.5 532v2M760.5 533v2M671.5 534v2M494.5 536v2M226.5 539v2M405.5 540v2M849 540.5h1M316.5 541v2M584.5 541v2M850 541.5h1M762.5 542v2M673.5 543v2M888 544.5h1M494 545.5h1M886 545.5h2M495 546.5h1M879 546.5h3M873 547.5h2M226.5 548v2M867 548.5h1M872 548.5h1M405 549.5h1M852.5 549v3M865 549.5h2M316.5 550v2M406 550.5h1M585.5 550v2M858 550.5h3M763 551.5h1M851 551.5h1M853 551.5h1M674 552.5h1M764 552.5h1M846 552.5h1M675 553.5h1M844 553.5h2M495.5 554v2M838 554.5h2M832 555.5h1M837 555.5h1M825 556.5h1M830 556.5h2M226.5 557v2M823 557.5h2M406.5 558v2M816 558.5h3M854.5 558v2M316.5 559v2M585 559.5h1M809 559.5h3M586 560.5h1M765.5 560v2M804 560.5h1M676.5 561v2M802 561.5h2M795 562.5h3M496.5 563v2M788 563.5h3M781 564.5h3M774 565.5h3M225.5 566v2M767 566.5h3M406.5 567v2M762 567.5h1M856.5 567v2M316.5 568v2M586.5 568v2M755 568.5h1M760 568.5h2M747 569.5h2M753 569.5h2M767.5 569v2M677.5 570v2M740 570.5h2M746 570.5h1M739 571.5h1M497.5 572v2M732 572.5h3M725 573.5h3M713 574.5h1M718 574.5h3M225.5 575v2M706 575.5h1M711 575.5h2M406.5 576v2M704 576.5h2M858.5 576v2M315.5 577v2M587.5 577v2M697 577.5h3M690 578.5h3M769.5 578v2M678 579.5h1M683 579.5h3M669 580.5h3M676 580.5h2M679 580.5h1M497.5 581v2M662 581.5h3M655 582.5h3M643 583.5h1M648 583.5h3M224.5 584v2M634 584.5h3M641 584.5h2M407.5 585v2M627 585.5h3M860.5 585v2M315.5 586v2M589.5 586v2M620 586.5h3M608 587.5h1M613 587.5h3M770.5 587v2M599 588.5h3M606 588.5h2M680.5 588v2M592 589.5h3M498.5 590v2M585 590.5h3M564 591.5h3M571 591.5h3M578 591.5h3M557 592.5h3M223.5 593v2M550 593.5h3M407.5 594v2M529 594.5h3M536 594.5h3M543 594.5h3M862 594.5h1M315.5 595v2M522 595.5h3M590.5 595v2M863 595.5h1M501 596.5h3M508 596.5h3M515 596.5h3M772.5 596v2M487 597.5h3M494 597.5h3M681.5 597v2M208 598.5h2M214 598.5h3M221 598.5h2M466 598.5h3M473 598.5h3M480 598.5h3M223 599.5h1M228 599.5h3M235 599.5h3M439 599.5h2M445 599.5h3M452 599.5h3M459 599.5h3M498 599.5h1M242 600.5h3M249 600.5h3M256 600.5h3M263 600.5h3M412 600.5h1M417 600.5h3M424 600.5h3M431 600.5h3M438 600.5h1M499 600.5h1M270 601.5h3M277 601.5h3M284 601.5h3M291 601.5h3M298 601.5h3M305 601.5h3M312 601.5h3M319 601.5h3M368 601.5h3M375 601.5h3M382 601.5h3M389 601.5h3M396 601.5h3M403 601.5h3M410 601.5h2M223.5 602v2M326 602.5h3M333 602.5h3M340 602.5h3M347 602.5h3M354 602.5h3M361 602.5h3M407.5 603v2M864.5 603v2M315.5 604v2M591.5 604v2M774.5 605v2M682.5 606v2M499.5 608v2M223.5 611v2M407.5 612v2M866 612.5h1M315.5 613v2M591.5 613v2M867 613.5h1M775.5 614v2M684.5 615v2M500.5 617v2M222.5 620v2M407.5 621v2M868 621.5h1M315.5 622v2M592.5 622v2M869 622.5h1M777.5 623v2M685.5 624v2M500.5 626v2M221.5 629v2M408.5 630v2M871.5 630v2M315.5 631v2M593.5 631v2M779.5 632v2M686 633.5h1M687 634.5h1M501.5 635v2M889 636.5h3M882 637.5h3M221.5 638v2M875 638.5h3M408.5 639v2M873.5 639v2M314.5 640v2M595.5 640v2M868 640.5h3M780.5 641v2M861 641.5h3M688.5 642v2M854 642.5h3M849 643.5h1M502.5 644v2M842 644.5h1M847 644.5h2M840 645.5h2M833 646.5h3M220.5 647v2M826 647.5h3M408.5 648v2M819 648.5h3M874 648.5h1M314.5 649v2M596.5 649v2M814 649.5h1M875 649.5h1M782.5 650v2M807 650.5h1M812 650.5h2M689.5 651v2M805 651.5h2M798 652.5h3M502.5 653v2M791 653.5h3M784 654.5h3M779 655.5h1M220 656.5h1M772 656.5h1M777 656.5h2M219 657.5h1M408.5 657v2M763 657.5h3M770 657.5h2M876 657.5h1M314.5 658v2M597.5 658v2M756 658.5h3M877 658.5h1M784.5 659v2M690.5 660v2M749 660.5h3M736 661.5h2M742 661.5h3M503.5 662v2M729 662.5h2M735 662.5h1M728 663.5h1M721 664.5h3M219.5 665v2M709 665.5h1M714 665.5h3M409.5 666v2M700 666.5h3M707 666.5h2M879.5 666v2M314.5 667v2M597.5 667v2M693 667.5h3M686 668.5h3M785.5 668v2M679 669.5h3M692.5 669v2M672 670.5h3M503.5 671v2M665 671.5h3M658 672.5h3M646 673.5h1M651 673.5h3M219.5 674v2M637 674.5h3M644 674.5h2M409.5 675v2M630 675.5h3M880 675.5h1M314.5 676v2M598.5 676v2M618 676.5h1M623 676.5h3M881 676.5h1M602 677.5h3M609 677.5h3M616 677.5h2M787.5 677v2M595 678.5h3M693.5 678v2M581 679.5h3M588 679.5h3M504.5 680v2M574 680.5h3M567 681.5h3M546 682.5h3M553 682.5h3M560 682.5h3M218.5 683v2M539 683.5h3M409.5 684v2M518 684.5h3M525 684.5h3M532 684.5h3M883.5 684v2M314.5 685v2M511 685.5h3M599.5 685v2M490 686.5h3M497 686.5h3M504 686.5h3M789.5 686v2M210 687.5h3M470 687.5h2M476 687.5h3M483 687.5h3M694 687.5h1M217 688.5h3M224 688.5h3M231 688.5h3M442 688.5h2M448 688.5h3M455 688.5h3M462 688.5h3M469 688.5h1M695 688.5h1M238 689.5h3M245 689.5h3M252 689.5h3M259 689.5h3M414 689.5h2M420 689.5h3M427 689.5h3M434 689.5h3M441 689.5h1M505.5 689v2M266 690.5h3M273 690.5h3M280 690.5h3M287 690.5h3M294 690.5h3M301 690.5h3M308 690.5h3M371 690.5h3M378 690.5h3M385 690.5h3M392 690.5h3M399 690.5h3M406 690.5h3M413 690.5h1M315 691.5h3M322 691.5h3M329 691.5h3M336 691.5h3M343 691.5h3M350 691.5h3M357 691.5h3M364 691.5h3M217.5 692v2M409.5 693v2M885.5 693v2M313.5 694v2M600.5 694v2M790.5 695v2M696.5 696v2M505.5 698v2M217.5 701v2M410.5 702v2M887.5 702v2M313.5 703v2M601 703.5h1M602 704.5h1M792.5 704v2M697.5 705v2M505.5 707v2M217 710.5h1M216 711.5h1M410.5 711v2M889.5 711v2M313.5 712v2M603.5 712v2M794.5 713v2M698.5 714v2M506.5 716v2M216.5 719v2M410.5 720v2M891.5 720v2M313.5 721v2M603.5 721v2M795.5 722v2M700.5 723v2M507.5 725v2M215.5 728v2M410.5 729v2M313.5 730v2M604.5 730v2M797.5 731v2M701.5 732v2M507.5 734v2M214.5 737v2M410.5 738v2M312.5 739v2M605.5 739v2M799.5 740v2M702.5 741v2M508.5 743v2M214.5 746v2M410.5 747v2M312 748.5h1M606 748.5h1" fill="none" stroke="#000" stroke-width="1" shape-rendering="crispEdges"/>
<g fill="none" stroke="#8a2be2" stroke-width="2" shape-rendering="crispEdges"><circle cx="734" cy="95" r="5" /><circle cx="459" cy="159" r="5" /><circle cx="578" cy="176" r="5" /><circle cx="600" cy="197" r="5" /><circle cx="326" cy="232" r="5" /><circle cx="487" cy="245" r="5" /><circle cx="537" cy="236" r="5" /><circle cx="605.2" cy="270.6" r="5" /><circle cx="259" cy="303" r="5" /><circle cx="523" cy="335" r="5" /><circle cx="398" cy="356" r="5" /><circle cx="631" cy="410.7" r="5" /><circle cx="671.6" cy="400.1" r="5" /><circle cx="748" cy="411" r="5" /><circle cx="718" cy="446" r="5" /><circle cx="261" cy="462" r="5" /><circle cx="553" cy="458" r="5" /><circle cx="331" cy="496" r="5" /><circle cx="604" cy="509" r="5" /><circle cx="522.1" cy="529.9" r="5" /><circle cx="337" cy="584" r="5" /><circle cx="715" cy="573" r="5" /><circle cx="213" cy="627" r="5" /><circle cx="542" cy="678.6" r="5" /><circle cx="387.8" cy="694.9" r="5" /></g>
</g>
<rect x="207" y="50" width="686" height="700" fill="none" stroke="#000" stroke-width="2" shape-rendering="crispEdges"/>
<path d="M197 64.5H206 M197 153.5H206 M197 242.5H206 M197 331.5H206 M197 420.5H206 M197 509.5H206 M197 598.5H206 M197 687.5H206 M215.5 751V761 M313.5 751V761 M411.5 751V761 M508.5 751V761 M606.5 751V761 M703.5 751V761 M801.5 751V761 M892.5 751V761" stroke="#000" stroke-width="1" fill="none" shape-rendering="crispEdges"/>
<text x="145.6" y="72" font-size="20.8" fill="#ff0a0a" textLength="25.0" lengthAdjust="spacingAndGlyphs">44</text><text x="172.0" y="68.8" font-size="15" fill="#ff0a0a">°</text><text x="178.3" y="72" font-size="20.8" fill="#ff0a0a" textLength="12.8" lengthAdjust="spacingAndGlyphs">N</text>
<text x="145.6" y="161" font-size="20.8" fill="#ff0a0a" textLength="25.0" lengthAdjust="spacingAndGlyphs">41</text><text x="172.0" y="157.8" font-size="15" fill="#ff0a0a">°</text><text x="178.3" y="161" font-size="20.8" fill="#ff0a0a" textLength="12.8" lengthAdjust="spacingAndGlyphs">N</text>
<text x="145.6" y="250" font-size="20.8" fill="#ff0a0a" textLength="25.0" lengthAdjust="spacingAndGlyphs">38</text><text x="172.0" y="246.8" font-size="15" fill="#ff0a0a">°</text><text x="178.3" y="250" font-size="20.8" fill="#ff0a0a" textLength="12.8" lengthAdjust="spacingAndGlyphs">N</text>
<text x="145.6" y="339" font-size="20.8" fill="#ff0a0a" textLength="25.0" lengthAdjust="spacingAndGlyphs">35</text><text x="172.0" y="335.8" font-size="15" fill="#ff0a0a">°</text><text x="178.3" y="339" font-size="20.8" fill="#ff0a0a" textLength="12.8" lengthAdjust="spacingAndGlyphs">N</text>
<text x="145.6" y="428" font-size="20.8" fill="#ff0a0a" textLength="25.0" lengthAdjust="spacingAndGlyphs">32</text><text x="172.0" y="424.8" font-size="15" fill="#ff0a0a">°</text><text x="178.3" y="428" font-size="20.8" fill="#ff0a0a" textLength="12.8" lengthAdjust="spacingAndGlyphs">N</text>
<text x="145.6" y="517" font-size="20.8" fill="#ff0a0a" textLength="25.0" lengthAdjust="spacingAndGlyphs">29</text><text x="172.0" y="513.8" font-size="15" fill="#ff0a0a">°</text><text x="178.3" y="517" font-size="20.8" fill="#ff0a0a" textLength="12.8" lengthAdjust="spacingAndGlyphs">N</text>
<text x="145.6" y="606" font-size="20.8" fill="#ff0a0a" textLength="25.0" lengthAdjust="spacingAndGlyphs">26</text><text x="172.0" y="602.8" font-size="15" fill="#ff0a0a">°</text><text x="178.3" y="606" font-size="20.8" fill="#ff0a0a" textLength="12.8" lengthAdjust="spacingAndGlyphs">N</text>
<text x="145.6" y="695" font-size="20.8" fill="#ff0a0a" textLength="25.0" lengthAdjust="spacingAndGlyphs">23</text><text x="172.0" y="691.8" font-size="15" fill="#ff0a0a">°</text><text x="178.3" y="695" font-size="20.8" fill="#ff0a0a" textLength="12.8" lengthAdjust="spacingAndGlyphs">N</text>
<text x="197.3" y="783.3" font-size="20.8" fill="#ff0a0a" textLength="36.2" lengthAdjust="spacingAndGlyphs">103</text><text x="235.3" y="780.0999999999999" font-size="15" fill="#ff0a0a">°</text><text x="240.7" y="783.3" font-size="20.8" fill="#ff0a0a" textLength="12.1" lengthAdjust="spacingAndGlyphs">E</text>
<text x="294.3" y="783.3" font-size="20.8" fill="#ff0a0a" textLength="36.2" lengthAdjust="spacingAndGlyphs">106</text><text x="332.3" y="780.0999999999999" font-size="15" fill="#ff0a0a">°</text><text x="337.7" y="783.3" font-size="20.8" fill="#ff0a0a" textLength="12.1" lengthAdjust="spacingAndGlyphs">E</text>
<text x="392.5" y="783.3" font-size="20.8" fill="#ff0a0a" textLength="36.2" lengthAdjust="spacingAndGlyphs">109</text><text x="430.5" y="780.0999999999999" font-size="15" fill="#ff0a0a">°</text><text x="435.9" y="783.3" font-size="20.8" fill="#ff0a0a" textLength="12.1" lengthAdjust="spacingAndGlyphs">E</text>
<text x="489.9" y="783.3" font-size="20.8" fill="#ff0a0a" textLength="36.2" lengthAdjust="spacingAndGlyphs">112</text><text x="527.9" y="780.0999999999999" font-size="15" fill="#ff0a0a">°</text><text x="533.3" y="783.3" font-size="20.8" fill="#ff0a0a" textLength="12.1" lengthAdjust="spacingAndGlyphs">E</text>
<text x="587.5" y="783.3" font-size="20.8" fill="#ff0a0a" textLength="36.2" lengthAdjust="spacingAndGlyphs">115</text><text x="625.5" y="780.0999999999999" font-size="15" fill="#ff0a0a">°</text><text x="630.9" y="783.3" font-size="20.8" fill="#ff0a0a" textLength="12.1" lengthAdjust="spacingAndGlyphs">E</text>
<text x="684.5" y="783.3" font-size="20.8" fill="#ff0a0a" textLength="36.2" lengthAdjust="spacingAndGlyphs">118</text><text x="722.5" y="780.0999999999999" font-size="15" fill="#ff0a0a">°</text><text x="727.9" y="783.3" font-size="20.8" fill="#ff0a0a" textLength="12.1" lengthAdjust="spacingAndGlyphs">E</text>
<text x="782.7" y="783.3" font-size="20.8" fill="#ff0a0a" textLength="36.2" lengthAdjust="spacingAndGlyphs">121</text><text x="820.7" y="780.0999999999999" font-size="15" fill="#ff0a0a">°</text><text x="826.1" y="783.3" font-size="20.8" fill="#ff0a0a" textLength="12.1" lengthAdjust="spacingAndGlyphs">E</text>
<text x="873.5" y="783.3" font-size="20.8" fill="#ff0a0a" textLength="36.2" lengthAdjust="spacingAndGlyphs">124</text><text x="911.5" y="780.0999999999999" font-size="15" fill="#ff0a0a">°</text><text x="916.9" y="783.3" font-size="20.8" fill="#ff0a0a" textLength="12.1" lengthAdjust="spacingAndGlyphs">E</text>
<rect x="956" y="127" width="41" height="51" fill="#92d050" shape-rendering="crispEdges"/>
<rect x="956" y="178" width="41" height="49" fill="#70ad3c" shape-rendering="crispEdges"/>
<rect x="956" y="227" width="41" height="50" fill="#f4f866" shape-rendering="crispEdges"/>
<rect x="956" y="277" width="41" height="49" fill="#ffea00" shape-rendering="crispEdges"/>
<rect x="956" y="326" width="41" height="50" fill="#ffb024" shape-rendering="crispEdges"/>
<rect x="956" y="376" width="41" height="49" fill="#ff8c00" shape-rendering="crispEdges"/>
<rect x="956" y="425" width="41" height="50" fill="#f82d5a" shape-rendering="crispEdges"/>
<rect x="956" y="475" width="41" height="49" fill="#ff0000" shape-rendering="crispEdges"/>
<rect x="956" y="524" width="41" height="50" fill="#c71585" shape-rendering="crispEdges"/>
<rect x="956" y="574" width="41" height="50" fill="#b03060" shape-rendering="crispEdges"/>
<rect x="956" y="624" width="41" height="49" fill="#9932cc" shape-rendering="crispEdges"/>
<rect x="956" y="673" width="41" height="50" fill="#8a2be2" shape-rendering="crispEdges"/>
<path d="M956 127.5H997 M956 178.5H997 M956 227.5H997 M956 277.5H997 M956 326.5H997 M956 376.5H997 M956 425.5H997 M956 475.5H997 M956 524.5H997 M956 574.5H997 M956 624.5H997 M956 673.5H997 M956 723.5H997 M956.5 127V724 M996.5 127V724" stroke="#000" stroke-width="1" fill="none" shape-rendering="crispEdges"/>
<text x="1003" y="186.2" font-size="22.6" fill="#000" textLength="25.5" lengthAdjust="spacingAndGlyphs">10</text>
<text x="1003.5" y="235.2" font-size="22.6" fill="#000" textLength="11.5" lengthAdjust="spacingAndGlyphs">8</text>
<text x="1003.5" y="285.2" font-size="22.6" fill="#000" textLength="11.5" lengthAdjust="spacingAndGlyphs">6</text>
<text x="1003.5" y="334.2" font-size="22.6" fill="#000" textLength="11.5" lengthAdjust="spacingAndGlyphs">4</text>
<text x="1003.5" y="384.2" font-size="22.6" fill="#000" textLength="11.5" lengthAdjust="spacingAndGlyphs">2</text>
<text x="1003.5" y="433.2" font-size="22.6" fill="#000" textLength="11.5" lengthAdjust="spacingAndGlyphs">1</text>
<text x="1003" y="483.2" font-size="22.6" fill="#000" textLength="33.5" lengthAdjust="spacingAndGlyphs">0.8</text>
<text x="1003" y="532.2" font-size="22.6" fill="#000" textLength="33.5" lengthAdjust="spacingAndGlyphs">0.6</text>
<text x="1003" y="582.2" font-size="22.6" fill="#000" textLength="33.5" lengthAdjust="spacingAndGlyphs">0.4</text>
<text x="1003" y="632.2" font-size="22.6" fill="#000" textLength="33.5" lengthAdjust="spacingAndGlyphs">0.2</text>
<text x="1003" y="681.2" font-size="22.6" fill="#000" textLength="33.5" lengthAdjust="spacingAndGlyphs">0.1</text>
<text x="941" y="108" font-size="21" fill="#000" textLength="51" lengthAdjust="spacingAndGlyphs">(km)</text>
<text x="171" y="33.9" font-size="24.2" fill="#000" textLength="54.0" lengthAdjust="spacingAndGlyphs">2025</text>
<text x="254" y="33.9" font-size="24.2" fill="#000" textLength="22.5" lengthAdjust="spacingAndGlyphs">10</text>
<text x="309" y="33.9" font-size="24.2" fill="#000" textLength="23.5" lengthAdjust="spacingAndGlyphs">18</text>
<text x="357" y="33.9" font-size="24.2" fill="#000" textLength="43.5" lengthAdjust="spacingAndGlyphs">WRF</text>
<text x="418" y="33.9" font-size="24.2" fill="#000" textLength="62.5" lengthAdjust="spacingAndGlyphs">cmaq</text>
<text x="533" y="33.9" font-size="24.2" fill="#000" textLength="63.5" lengthAdjust="spacingAndGlyphs">12km</text>
<text x="703" y="33.9" font-size="24.2" fill="#000" textLength="23.5" lengthAdjust="spacingAndGlyphs">10</text>
<text x="758" y="33.9" font-size="24.2" fill="#000" textLength="24.5" lengthAdjust="spacingAndGlyphs">18</text>
<text x="806" y="33.9" font-size="24.2" fill="#000" textLength="26.5" lengthAdjust="spacingAndGlyphs">23</text>
<text x="871" y="33.9" font-size="24.2" fill="#ff0a0a" textLength="38.5" lengthAdjust="spacingAndGlyphs">VIS</text>
<path d="M402.5 38.5L414.5 15" stroke="#000" stroke-width="1.1"/>
<path d="M694 24h2v2h-2zM694 32h2v2h-2z" fill="#000"/>
<text class="cjk" x="228.5" y="33.5" font-size="24" fill="#000">年</text>
<text class="cjk" x="281" y="33.5" font-size="24" fill="#000">月</text>
<text class="cjk" x="336.5" y="30.7" font-size="20" fill="#000">日</text>
<text class="cjk" x="481.5" y="33.5" font-size="24" fill="#000" textLength="48" lengthAdjust="spacingAndGlyphs">模式</text>
<text class="cjk" x="597.5" y="33.5" font-size="24" fill="#000" textLength="93" lengthAdjust="spacingAndGlyphs">预报产品</text>
<text class="cjk" x="730" y="33.5" font-size="24" fill="#000">月</text>
<text class="cjk" x="786" y="30.7" font-size="20" fill="#000">日</text>
<text class="cjk" x="835.5" y="33.5" font-size="24" fill="#000">时</text>
<text class="cjk" x="359.5" y="808.7" font-size="20.5" fill="#000" textLength="81" lengthAdjust="spacingAndGlyphs">版权所有</text>
<text class="cjk" x="451.5" y="808.7" font-size="20.5" fill="#000" textLength="80" lengthAdjust="spacingAndGlyphs">南京大学</text>
<text class="cjk" x="543.5" y="808.7" font-size="20.5" fill="#000" textLength="200" lengthAdjust="spacingAndGlyphs">南京创蓝科技有限公司</text>
<path d="M442.5 799.5h2v2h-2zM442.5 809h2v2h-2z" fill="#000"/>
<path d="M534.5 788V818" stroke="#000" stroke-width="1" shape-rendering="crispEdges"/>
</svg></body></html>
